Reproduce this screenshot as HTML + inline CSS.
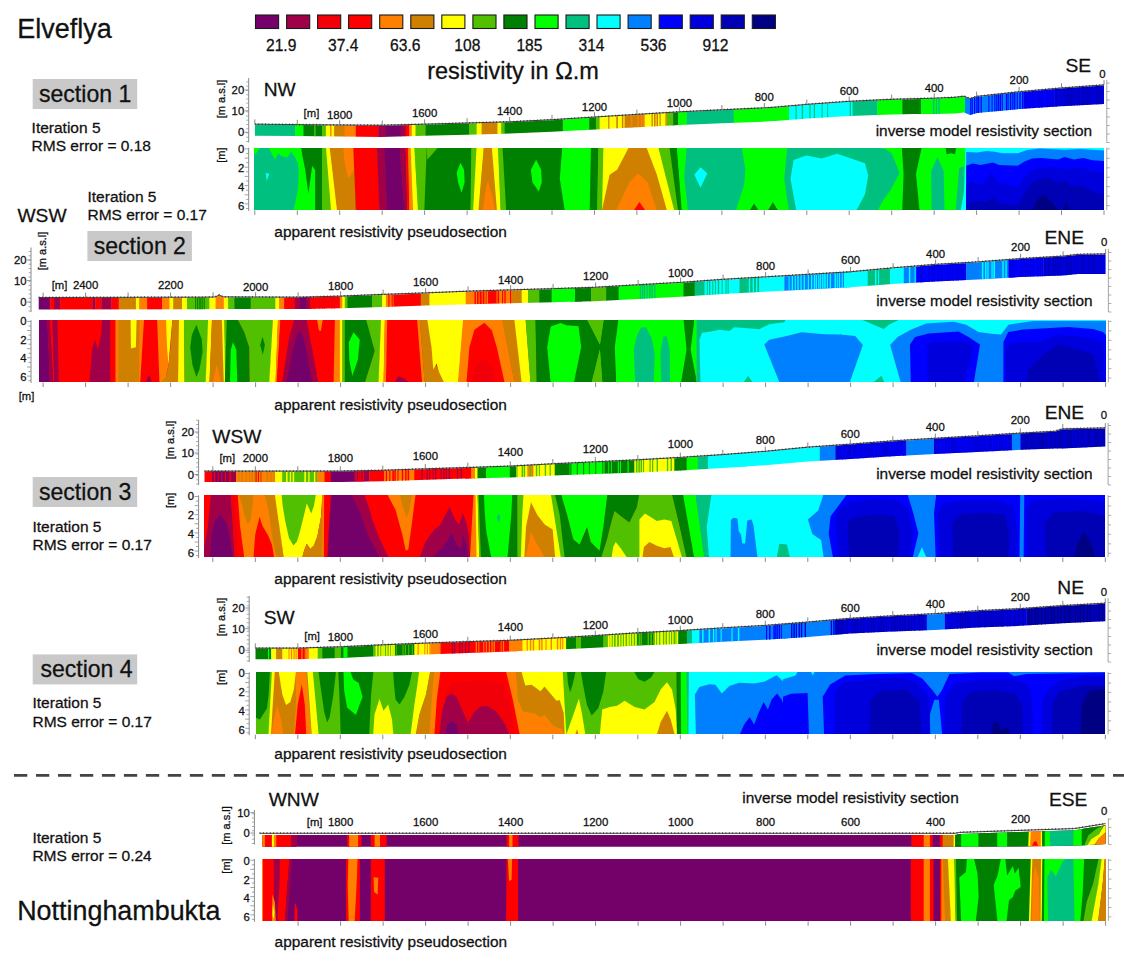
<!DOCTYPE html>
<html><head><meta charset="utf-8"><title>Resistivity sections</title>
<style>
html,body{margin:0;padding:0;background:#fff;}
body{width:1124px;height:961px;overflow:hidden;font-family:"Liberation Sans",sans-serif;}
svg{display:block;font-family:"Liberation Sans",sans-serif;fill:#111;}
text{stroke:#111;stroke-width:0.28px;}
</style></head><body>
<svg width="1124" height="961" viewBox="0 0 1124 961">
<rect x="0" y="0" width="1124" height="961" fill="#ffffff"/>
<rect x="255.5" y="15" width="23.1" height="13.5" fill="#74006a" stroke="#1a1a1a" stroke-width="1.1"/>
<rect x="286.6" y="15" width="23.1" height="13.5" fill="#a00048" stroke="#1a1a1a" stroke-width="1.1"/>
<rect x="317.6" y="15" width="23.1" height="13.5" fill="#f2000a" stroke="#1a1a1a" stroke-width="1.1"/>
<rect x="348.6" y="15" width="23.1" height="13.5" fill="#ff0000" stroke="#1a1a1a" stroke-width="1.1"/>
<rect x="379.7" y="15" width="23.1" height="13.5" fill="#ff8000" stroke="#1a1a1a" stroke-width="1.1"/>
<rect x="410.8" y="15" width="23.1" height="13.5" fill="#d08000" stroke="#1a1a1a" stroke-width="1.1"/>
<rect x="441.8" y="15" width="23.1" height="13.5" fill="#ffff00" stroke="#1a1a1a" stroke-width="1.1"/>
<rect x="472.9" y="15" width="23.1" height="13.5" fill="#50c000" stroke="#1a1a1a" stroke-width="1.1"/>
<rect x="503.9" y="15" width="23.1" height="13.5" fill="#008000" stroke="#1a1a1a" stroke-width="1.1"/>
<rect x="535.0" y="15" width="23.1" height="13.5" fill="#00ff00" stroke="#1a1a1a" stroke-width="1.1"/>
<rect x="566.0" y="15" width="23.1" height="13.5" fill="#00c080" stroke="#1a1a1a" stroke-width="1.1"/>
<rect x="597.0" y="15" width="23.1" height="13.5" fill="#00ffff" stroke="#1a1a1a" stroke-width="1.1"/>
<rect x="628.1" y="15" width="23.1" height="13.5" fill="#0080ff" stroke="#1a1a1a" stroke-width="1.1"/>
<rect x="659.2" y="15" width="23.1" height="13.5" fill="#0000ff" stroke="#1a1a1a" stroke-width="1.1"/>
<rect x="690.2" y="15" width="23.1" height="13.5" fill="#0000dc" stroke="#1a1a1a" stroke-width="1.1"/>
<rect x="721.2" y="15" width="23.1" height="13.5" fill="#0000b4" stroke="#1a1a1a" stroke-width="1.1"/>
<rect x="752.3" y="15" width="23.1" height="13.5" fill="#000082" stroke="#1a1a1a" stroke-width="1.1"/>
<text x="281.2" y="50.5" font-size="15.6" text-anchor="middle" >21.9</text>
<text x="343.2" y="50.5" font-size="15.6" text-anchor="middle" >37.4</text>
<text x="405.3" y="50.5" font-size="15.6" text-anchor="middle" >63.6</text>
<text x="467.3" y="50.5" font-size="15.6" text-anchor="middle" >108</text>
<text x="529.4" y="50.5" font-size="15.6" text-anchor="middle" >185</text>
<text x="591.5" y="50.5" font-size="15.6" text-anchor="middle" >314</text>
<text x="653.5" y="50.5" font-size="15.6" text-anchor="middle" >536</text>
<text x="715.5" y="50.5" font-size="15.6" text-anchor="middle" >912</text>
<text x="513.0" y="79.0" font-size="23.5" text-anchor="middle" >resistivity in Ω.m</text>
<text x="17.2" y="37.5" font-size="27" text-anchor="start" >Elveflya</text>
<text x="17.2" y="920.0" font-size="26.9" text-anchor="start" >Nottinghambukta</text>
<rect x="32.7" y="79.0" width="104.5" height="30" fill="#c9c9c9"/>
<text x="39.0" y="101.6" font-size="23.05" text-anchor="start" >section 1</text>
<rect x="87.4" y="231.0" width="104.5" height="30" fill="#c9c9c9"/>
<text x="93.7" y="253.6" font-size="23.05" text-anchor="start" >section 2</text>
<rect x="32.7" y="477.0" width="104.5" height="30" fill="#c9c9c9"/>
<text x="39.0" y="499.6" font-size="23.05" text-anchor="start" >section 3</text>
<rect x="32.7" y="654.4" width="104.5" height="30" fill="#c9c9c9"/>
<text x="40.4" y="677.0" font-size="23.05" text-anchor="start" >section 4</text>
<text x="31.6" y="132.8" font-size="15.5" text-anchor="start" >Iteration 5</text>
<text x="31.6" y="151.0" font-size="15.5" text-anchor="start" >RMS error = 0.18</text>
<text x="87.5" y="201.6" font-size="15.5" text-anchor="start" >Iteration 5</text>
<text x="87.5" y="219.8" font-size="15.5" text-anchor="start" >RMS error = 0.17</text>
<text x="32.5" y="531.7" font-size="15.5" text-anchor="start" >Iteration 5</text>
<text x="32.5" y="549.9" font-size="15.5" text-anchor="start" >RMS error = 0.17</text>
<text x="32.5" y="708.3" font-size="15.5" text-anchor="start" >Iteration 5</text>
<text x="32.5" y="726.5" font-size="15.5" text-anchor="start" >RMS error = 0.17</text>
<text x="32.4" y="842.6" font-size="15.5" text-anchor="start" >Iteration 5</text>
<text x="32.4" y="860.8" font-size="15.5" text-anchor="start" >RMS error = 0.24</text>
<text x="17.5" y="221.7" font-size="19.2" text-anchor="start" >WSW</text>
<line x1="14" y1="775.3" x2="1124" y2="775.3" stroke="#444" stroke-width="2.8" stroke-dasharray="13.3,8.68"/>
<clipPath id="c1"><polygon points="254.9,124.7 298.0,125.1 340.0,125.5 381.0,125.8 424.0,124.7 467.0,123.5 510.0,122.3 552.0,120.2 595.0,117.5 637.0,114.9 680.0,112.3 722.0,110.3 765.0,108.3 775.0,107.7 807.0,104.9 849.5,101.8 892.0,99.8 934.3,98.7 955.0,97.8 964.0,96.7 970.0,99.1 977.0,96.9 1019.4,92.2 1061.3,88.5 1104.0,85.4 1104.0,104.0 1061.3,106.3 1019.4,109.1 977.0,113.0 970.0,115.1 964.0,112.6 955.0,113.5 934.3,114.0 915.0,114.1 892.0,114.5 849.5,116.0 807.0,118.6 775.0,121.1 765.0,121.6 722.0,123.3 680.0,125.0 637.0,127.2 595.0,129.5 552.0,131.8 510.0,133.6 495.0,133.9 467.0,134.7 424.0,135.8 381.0,136.9 340.0,136.6 298.0,136.1 254.9,135.7"/></clipPath>
<g clip-path="url(#c1)">
<rect x="252.4" y="82.9" width="43.3" height="57.0" fill="#00c080"/>
<rect x="295.2" y="82.9" width="8.6" height="57.0" fill="#00ff00"/>
<rect x="303.4" y="82.9" width="19.1" height="57.0" fill="#008000"/>
<rect x="322.1" y="82.9" width="4.1" height="57.0" fill="#50c000"/>
<rect x="325.9" y="82.9" width="8.6" height="57.0" fill="#ffff00"/>
<rect x="334.1" y="82.9" width="10.9" height="57.0" fill="#d08000"/>
<rect x="344.5" y="82.9" width="11.6" height="57.0" fill="#ff8000"/>
<rect x="355.8" y="82.9" width="22.8" height="57.0" fill="#ff0000"/>
<rect x="378.2" y="82.9" width="7.9" height="57.0" fill="#a00048"/>
<rect x="385.7" y="82.9" width="15.3" height="57.0" fill="#74006a"/>
<rect x="400.6" y="82.9" width="5.4" height="57.0" fill="#a00048"/>
<rect x="405.6" y="82.9" width="4.1" height="57.0" fill="#ff0000"/>
<rect x="409.3" y="82.9" width="2.9" height="57.0" fill="#ff8000"/>
<rect x="411.8" y="82.9" width="4.1" height="57.0" fill="#ffff00"/>
<rect x="415.5" y="82.9" width="10.4" height="57.0" fill="#50c000"/>
<rect x="425.5" y="82.9" width="44.0" height="57.0" fill="#008000"/>
<rect x="469.1" y="82.9" width="7.9" height="57.0" fill="#50c000"/>
<rect x="476.6" y="82.9" width="5.4" height="57.0" fill="#ffff00"/>
<rect x="481.6" y="82.9" width="15.3" height="57.0" fill="#d08000"/>
<rect x="330.1" y="82.9" width="1.4" height="57.0" fill="#ff8000"/>
<rect x="314.2" y="82.9" width="1.4" height="57.0" fill="#50c000"/>
<rect x="495.0" y="82.9" width="2.9" height="57.0" fill="#d08000"/>
<rect x="497.5" y="82.9" width="4.1" height="57.0" fill="#ffff00"/>
<rect x="501.2" y="82.9" width="3.6" height="57.0" fill="#50c000"/>
<rect x="504.5" y="82.9" width="58.7" height="57.0" fill="#008000"/>
<rect x="562.8" y="82.9" width="26.8" height="57.0" fill="#00ff00"/>
<rect x="589.2" y="82.9" width="7.1" height="57.0" fill="#008000"/>
<rect x="595.9" y="82.9" width="4.1" height="57.0" fill="#50c000"/>
<rect x="599.6" y="82.9" width="25.3" height="57.0" fill="#ffff00"/>
<rect x="624.5" y="82.9" width="20.3" height="57.0" fill="#d08000"/>
<rect x="644.5" y="82.9" width="22.8" height="57.0" fill="#ffff00"/>
<rect x="666.9" y="82.9" width="6.6" height="57.0" fill="#50c000"/>
<rect x="673.1" y="82.9" width="5.4" height="57.0" fill="#008000"/>
<rect x="678.1" y="82.9" width="9.1" height="57.0" fill="#00ff00"/>
<rect x="686.8" y="82.9" width="47.2" height="57.0" fill="#00c080"/>
<rect x="733.7" y="82.9" width="43.3" height="57.0" fill="#00ff00"/>
<rect x="608.2" y="82.9" width="1.2" height="57.0" fill="#d08000"/>
<rect x="616.3" y="82.9" width="1.6" height="57.0" fill="#d08000"/>
<rect x="621.9" y="82.9" width="1.5" height="57.0" fill="#d08000"/>
<rect x="651.5" y="82.9" width="1.3" height="57.0" fill="#d08000"/>
<rect x="654.0" y="82.9" width="1.6" height="57.0" fill="#d08000"/>
<rect x="656.5" y="82.9" width="1.5" height="57.0" fill="#d08000"/>
<rect x="659.5" y="82.9" width="1.2" height="57.0" fill="#d08000"/>
<rect x="665.4" y="82.9" width="1.4" height="57.0" fill="#d08000"/>
<rect x="630.9" y="82.9" width="1.4" height="57.0" fill="#ff8000"/>
<rect x="637.4" y="82.9" width="1.4" height="57.0" fill="#ff8000"/>
<rect x="640.8" y="82.9" width="1.5" height="57.0" fill="#ff8000"/>
<rect x="643.1" y="82.9" width="1.4" height="57.0" fill="#ff8000"/>
<rect x="671.7" y="82.9" width="1.3" height="57.0" fill="#50c000"/>
<rect x="775.0" y="82.9" width="14.4" height="57.0" fill="#00ff00"/>
<rect x="789.0" y="82.9" width="64.1" height="57.0" fill="#00ffff"/>
<rect x="852.6" y="82.9" width="25.2" height="57.0" fill="#00c080"/>
<rect x="877.5" y="82.9" width="25.2" height="57.0" fill="#00ff00"/>
<rect x="902.3" y="82.9" width="19.0" height="57.0" fill="#008000"/>
<rect x="920.9" y="82.9" width="44.5" height="57.0" fill="#00ff00"/>
<rect x="965.0" y="82.9" width="58.8" height="57.0" fill="#0080ff"/>
<rect x="1023.4" y="82.9" width="31.5" height="57.0" fill="#0000ff"/>
<rect x="1054.5" y="82.9" width="53.2" height="57.0" fill="#0000dc"/>
<rect x="795.5" y="82.9" width="1.2" height="57.0" fill="#00c080"/>
<rect x="801.8" y="82.9" width="1.3" height="57.0" fill="#00c080"/>
<rect x="809.4" y="82.9" width="1.2" height="57.0" fill="#00c080"/>
<rect x="813.8" y="82.9" width="1.2" height="57.0" fill="#00c080"/>
<rect x="821.6" y="82.9" width="1.0" height="57.0" fill="#00c080"/>
<rect x="827.2" y="82.9" width="0.9" height="57.0" fill="#00c080"/>
<rect x="849.7" y="82.9" width="1.3" height="57.0" fill="#00c080"/>
<rect x="932.9" y="82.9" width="1.4" height="57.0" fill="#00c080"/>
<rect x="935.9" y="82.9" width="1.1" height="57.0" fill="#00c080"/>
<rect x="938.3" y="82.9" width="1.4" height="57.0" fill="#00c080"/>
<rect x="970.2" y="82.9" width="1.1" height="57.0" fill="#0000ff"/>
<rect x="971.7" y="82.9" width="1.2" height="57.0" fill="#0000ff"/>
<rect x="974.0" y="82.9" width="1.3" height="57.0" fill="#0000ff"/>
<rect x="976.3" y="82.9" width="1.3" height="57.0" fill="#0000ff"/>
<rect x="977.9" y="82.9" width="1.4" height="57.0" fill="#0000ff"/>
<rect x="980.6" y="82.9" width="1.2" height="57.0" fill="#0000ff"/>
<rect x="988.4" y="82.9" width="1.0" height="57.0" fill="#0000ff"/>
<rect x="991.6" y="82.9" width="1.0" height="57.0" fill="#0000ff"/>
<rect x="994.3" y="82.9" width="1.1" height="57.0" fill="#0000ff"/>
<rect x="996.2" y="82.9" width="1.2" height="57.0" fill="#0000ff"/>
<rect x="997.9" y="82.9" width="1.5" height="57.0" fill="#0000ff"/>
<rect x="1000.0" y="82.9" width="1.0" height="57.0" fill="#0000ff"/>
<rect x="1001.7" y="82.9" width="1.1" height="57.0" fill="#0000ff"/>
<rect x="1005.9" y="82.9" width="1.3" height="57.0" fill="#0000ff"/>
<rect x="1007.6" y="82.9" width="1.0" height="57.0" fill="#0000ff"/>
<rect x="1009.9" y="82.9" width="1.4" height="57.0" fill="#0000ff"/>
<rect x="1012.3" y="82.9" width="1.2" height="57.0" fill="#0000ff"/>
<rect x="1014.1" y="82.9" width="1.3" height="57.0" fill="#0000ff"/>
<rect x="1016.7" y="82.9" width="1.1" height="57.0" fill="#0000ff"/>
<rect x="1019.3" y="82.9" width="1.4" height="57.0" fill="#0000ff"/>
<rect x="1021.9" y="82.9" width="1.4" height="57.0" fill="#0000ff"/>
<rect x="1024.6" y="82.9" width="1.0" height="57.0" fill="#0000dc"/>
<rect x="1026.4" y="82.9" width="1.1" height="57.0" fill="#0000dc"/>
<rect x="1029.0" y="82.9" width="1.2" height="57.0" fill="#0000dc"/>
<rect x="1032.1" y="82.9" width="1.5" height="57.0" fill="#0000dc"/>
<rect x="1038.3" y="82.9" width="1.5" height="57.0" fill="#0000dc"/>
<rect x="1041.1" y="82.9" width="1.3" height="57.0" fill="#0000dc"/>
<rect x="1046.6" y="82.9" width="1.4" height="57.0" fill="#0000dc"/>
<rect x="1049.4" y="82.9" width="1.1" height="57.0" fill="#0000dc"/>
<rect x="1052.2" y="82.9" width="1.4" height="57.0" fill="#0000dc"/>
<rect x="1055.5" y="82.9" width="1.4" height="57.0" fill="#0000b4"/>
<rect x="1063.7" y="82.9" width="1.0" height="57.0" fill="#0000b4"/>
<rect x="1066.8" y="82.9" width="1.2" height="57.0" fill="#0000b4"/>
<rect x="1069.2" y="82.9" width="1.0" height="57.0" fill="#0000b4"/>
<rect x="1071.0" y="82.9" width="1.2" height="57.0" fill="#0000b4"/>
<rect x="1073.6" y="82.9" width="1.1" height="57.0" fill="#0000b4"/>
<rect x="1076.8" y="82.9" width="1.0" height="57.0" fill="#0000b4"/>
<rect x="1079.0" y="82.9" width="1.0" height="57.0" fill="#0000b4"/>
<rect x="1081.8" y="82.9" width="1.1" height="57.0" fill="#0000b4"/>
<rect x="1083.8" y="82.9" width="1.1" height="57.0" fill="#0000b4"/>
<rect x="1086.3" y="82.9" width="1.4" height="57.0" fill="#0000b4"/>
<rect x="1088.8" y="82.9" width="1.2" height="57.0" fill="#0000b4"/>
<rect x="1091.5" y="82.9" width="0.9" height="57.0" fill="#0000b4"/>
<rect x="1095.8" y="82.9" width="1.0" height="57.0" fill="#0000b4"/>
<rect x="1098.3" y="82.9" width="1.2" height="57.0" fill="#0000b4"/>
<rect x="1100.7" y="82.9" width="1.2" height="57.0" fill="#0000b4"/>
</g>
<polyline fill="none" stroke="#2a2a2a" stroke-width="0.9" points="254.9,124.2 298.0,124.6 340.0,125.0 381.0,125.3 424.0,124.2 467.0,123.0 510.0,121.8 552.0,119.7 595.0,117.0 637.0,114.4 680.0,111.8 722.0,109.8 765.0,107.8 775.0,107.2 807.0,104.4 849.5,101.3 892.0,99.3 934.3,98.2 955.0,97.3 964.0,96.2 970.0,98.6 977.0,96.4 1019.4,91.7 1061.3,88.0 1104.0,84.9"/>
<polyline fill="none" stroke="#333" stroke-width="1.5" stroke-dasharray="0.9,2.5" points="254.9,124.0 298.0,124.4 340.0,124.8 381.0,125.1 424.0,124.0 467.0,122.8 510.0,121.6 552.0,119.5 595.0,116.8 637.0,114.2 680.0,111.6 722.0,109.6 765.0,107.6 775.0,107.0 807.0,104.2 849.5,101.1 892.0,99.1 934.3,98.0 955.0,97.1 964.0,96.0 970.0,98.4 977.0,96.2 1019.4,91.5 1061.3,87.8 1104.0,84.7"/>
<clipPath id="c2"><rect x="254" y="148" width="850" height="62"/></clipPath>
<g clip-path="url(#c2)">
<rect x="253.5" y="146.7" width="851.5" height="64.2" fill="#00ff00"/>
<polygon fill="#00c080" points="253.2,154.4 256.4,153.0 260.7,146.9 268.1,146.9 275.1,159.8 278.3,152.8 281.0,156.0 287.4,157.6 291.1,151.2 294.8,157.1 298.0,163.5 298.7,172.0 298.0,188.0 295.9,199.8 293.2,211.5 253.2,211.5" />
<polygon fill="#00ffff" points="265.6,172.7 269.3,173.7 266.8,180.9" />
<polygon fill="#008000" points="300.9,146.1 322.1,146.1 322.1,212.1 315.1,212.1 315.1,169.7 312.2,166.0 308.4,193.4 305.2,169.7 302.2,154.8" />
<polygon fill="#50c000" points="322.1,146.7 329.1,146.7 331.6,210.9 322.1,210.9" />
<polygon fill="#ffff00" points="325.9,146.7 330.1,146.7 337.6,210.9 331.1,210.9" />
<polygon fill="#d08000" points="329.6,146.7 353.5,146.7 356.0,210.9 337.1,210.9" />
<polygon fill="#ff8000" points="343.3,146.1 353.5,146.1 354.0,169.7 348.3,178.5 344.5,162.3" />
<polygon fill="#ff0000" points="353.3,146.7 377.4,146.7 379.9,210.9 355.8,210.9" />
<polygon fill="#a00048" points="376.9,146.7 384.9,146.7 387.4,210.9 379.4,210.9" />
<polygon fill="#74006a" points="384.4,146.7 399.9,146.7 404.8,210.9 386.9,210.9" />
<polygon fill="#a00048" points="399.4,146.7 405.8,146.7 407.6,210.9 404.3,210.9" />
<polygon fill="#ff0000" points="405.6,146.7 408.3,146.7 409.6,210.9 407.3,210.9" />
<polygon fill="#ff8000" points="408.1,146.7 410.8,146.7 413.3,210.9 409.3,210.9" />
<polygon fill="#ffff00" points="410.6,146.7 414.6,146.7 418.3,210.9 413.1,210.9" />
<polygon fill="#50c000" points="414.3,146.7 427.3,146.7 424.8,210.9 418.0,210.9" />
<polygon fill="#008000" points="426.8,146.7 471.6,146.7 470.9,210.9 424.3,210.9" />
<polygon fill="#50c000" points="426.8,146.1 439.2,146.1 431.7,154.8 427.3,159.8" />
<polygon fill="#00ff00" points="460.4,162.8 464.1,169.7 464.6,182.2 461.6,192.7 458.1,182.2 456.7,172.7" />
<polygon fill="#50c000" points="471.4,146.7 477.1,146.7 473.6,210.9 470.4,210.9" />
<polygon fill="#ffff00" points="476.6,146.7 484.1,146.7 478.8,210.9 473.1,210.9" />
<polygon fill="#d08000" points="483.8,146.1 492.0,146.1 497.5,212.1 478.3,212.1" />
<polygon fill="#ff8000" points="487.8,180.9 492.0,194.7 495.3,212.1 482.8,212.1 485.3,192.2" />
<polygon fill="#ffff00" points="491.8,146.7 498.2,146.7 501.0,210.9 497.0,210.9" />
<polygon fill="#50c000" points="498.0,146.7 502.7,146.7 507.2,210.9 500.5,210.9" />
<polygon fill="#008000" points="502.5,146.7 562.8,146.7 565.3,210.9 506.2,210.9" />
<polygon fill="#00ff00" points="536.1,159.8 541.1,169.7 541.8,182.2 538.8,191.4 532.4,182.2 530.9,169.7" />
<polygon fill="#00ff00" points="562.3,146.7 591.2,146.7 593.7,178.8 589.9,210.9 564.8,210.9 559.8,178.8" />
<polygon fill="#008000" points="590.9,146.7 598.6,146.7 597.4,210.9 589.7,210.9" />
<polygon fill="#50c000" points="598.4,146.7 603.6,146.7 602.4,210.9 597.1,210.9" />
<polygon fill="#ffff00" points="603.4,146.7 658.4,146.7 674.9,210.9 602.1,210.9" />
<polygon fill="#d08000" points="629.5,146.1 646.0,146.1 656.9,174.7 667.4,212.1 601.6,212.1 609.6,174.7 617.1,169.7" />
<polygon fill="#ff8000" points="638.2,173.5 647.5,182.2 657.4,212.1 615.3,212.1 629.5,182.2" />
<polygon fill="#ff0000" points="639.5,202.1 646.5,212.1 632.5,212.1" />
<polygon fill="#50c000" points="658.2,146.7 669.6,146.7 678.4,210.9 674.4,210.9" />
<polygon fill="#008000" points="669.4,146.7 677.1,146.7 682.1,210.9 678.1,210.9" />
<polygon fill="#00ff00" points="676.9,146.7 687.1,146.7 688.3,210.9 681.8,210.9" />
<polygon fill="#00c080" points="686.8,146.1 741.6,146.1 745.4,169.7 744.1,184.7 735.4,212.1 688.1,212.1 684.3,177.2" />
<polygon fill="#00ffff" points="700.5,167.2 707.3,173.5 700.5,187.7 694.3,174.7" />
<polygon fill="#008000" points="748.6,212.1 754.1,203.4 759.6,212.1" />
<polygon fill="#008000" points="767.0,212.1 772.8,202.1 779.0,212.1" />
<polygon fill="#00c080" points="787.4,144.5 880.6,144.5 880.9,150.7 877.5,212.8 789.0,212.8 784.3,178.7" />
<polygon fill="#00c080" points="874.7,147.1 885.3,148.9 891.6,153.3 899.6,172.9 890.7,189.8 883.6,199.6 877.3,211.2 874.7,211.2" />
<polygon fill="#00ffff" points="793.6,160.0 806.1,155.4 821.6,158.5 837.1,153.8 865.0,163.2 868.2,175.6 865.0,194.2 855.1,212.8 796.7,212.8 790.5,178.7" />
<polygon fill="#008000" points="901.8,147.1 921.8,147.1 916.0,173.8 919.6,211.2 902.2,211.2 903.6,173.8" />
<polygon fill="#008000" points="945.4,147.1 956.1,147.1 955.2,154.2 951.2,153.3 946.7,154.2" />
<polygon fill="#00c080" points="937.4,156.9 943.6,171.1 944.5,211.2 931.6,211.2 931.2,171.1" />
<polygon fill="#00c080" points="959.2,167.6 964.3,166.7 963.8,193.4 960.5,211.2 955.6,211.2 957.8,184.5" />
<polygon fill="#00ffff" points="965.2,147.1 967.6,147.1 967.6,211.2 960.5,211.2 963.8,193.4 965.0,166.7" />
<polygon fill="#00ffff" points="966.2,146.2 1105.0,146.2 1105.0,211.6 966.2,211.6" />
<polygon fill="#0080ff" points="966.2,152.1 977.4,152.5 986.7,150.9 994.5,151.7 1002.3,153.2 1017.8,153.2 1027.2,150.1 1039.6,148.6 1064.6,149.7 1080.1,149.0 1105.0,150.6 1105.0,211.6 966.2,211.6" />
<polygon fill="#0000ff" points="966.2,165.7 972.7,163.4 980.5,164.9 992.9,162.6 999.2,164.9 1017.8,165.7 1024.1,161.8 1031.9,158.4 1041.2,157.9 1058.3,159.5 1064.6,157.1 1073.9,159.5 1083.2,157.9 1092.6,160.2 1105.0,161.0 1105.0,211.6 966.2,211.6" />
<polygon fill="#0000dc" points="966.2,185.2 971.9,181.3 980.5,185.2 991.4,173.5 997.6,182.0 1008.5,184.4 1017.8,186.7 1024.1,177.4 1030.3,171.1 1041.2,167.7 1055.2,167.2 1064.6,169.6 1073.9,167.2 1086.3,168.8 1095.7,171.1 1105.0,172.7 1105.0,211.6 966.2,211.6" />
<polygon fill="#0000b4" points="966.2,205.4 974.3,200.7 986.7,202.3 992.9,197.6 999.2,203.8 1017.8,205.4 1027.2,189.8 1033.4,182.0 1041.2,178.6 1049.0,178.1 1058.3,183.6 1064.6,180.5 1072.3,186.7 1080.1,185.2 1089.5,189.8 1095.7,192.9 1105.0,194.5 1105.0,211.6 966.2,211.6" />
<polygon fill="#000082" points="1031.9,211.6 1036.5,200.7 1044.3,194.5 1052.1,202.3 1059.1,211.6" />
<polygon fill="#000082" points="1062.2,211.6 1066.1,202.3 1070.0,211.6" />
</g>
<line x1="248.7" y1="147.7" x2="248.7" y2="210.9" stroke="#8a8a8a" stroke-width="1"/>
<line x1="244.7" y1="148.9" x2="248.7" y2="148.9" stroke="#8a8a8a" stroke-width="0.8"/>
<line x1="246.2" y1="153.5" x2="248.7" y2="153.5" stroke="#8a8a8a" stroke-width="0.8"/>
<line x1="244.7" y1="158.1" x2="248.7" y2="158.1" stroke="#8a8a8a" stroke-width="0.8"/>
<line x1="246.2" y1="162.7" x2="248.7" y2="162.7" stroke="#8a8a8a" stroke-width="0.8"/>
<line x1="244.7" y1="167.2" x2="248.7" y2="167.2" stroke="#8a8a8a" stroke-width="0.8"/>
<line x1="246.2" y1="171.8" x2="248.7" y2="171.8" stroke="#8a8a8a" stroke-width="0.8"/>
<line x1="244.7" y1="176.4" x2="248.7" y2="176.4" stroke="#8a8a8a" stroke-width="0.8"/>
<line x1="246.2" y1="181.0" x2="248.7" y2="181.0" stroke="#8a8a8a" stroke-width="0.8"/>
<line x1="244.7" y1="185.6" x2="248.7" y2="185.6" stroke="#8a8a8a" stroke-width="0.8"/>
<line x1="246.2" y1="190.2" x2="248.7" y2="190.2" stroke="#8a8a8a" stroke-width="0.8"/>
<line x1="244.7" y1="194.8" x2="248.7" y2="194.8" stroke="#8a8a8a" stroke-width="0.8"/>
<line x1="246.2" y1="199.4" x2="248.7" y2="199.4" stroke="#8a8a8a" stroke-width="0.8"/>
<line x1="244.7" y1="203.9" x2="248.7" y2="203.9" stroke="#8a8a8a" stroke-width="0.8"/>
<line x1="246.2" y1="208.5" x2="248.7" y2="208.5" stroke="#8a8a8a" stroke-width="0.8"/>
<text x="244.2" y="153.3" font-size="11.3" text-anchor="end" >0</text>
<text x="244.2" y="172.2" font-size="11.3" text-anchor="end" >2</text>
<text x="244.2" y="191.1" font-size="11.3" text-anchor="end" >4</text>
<text x="244.2" y="210.0" font-size="11.3" text-anchor="end" >6</text>
<line x1="248.7" y1="78.0" x2="248.7" y2="142.5" stroke="#8a8a8a" stroke-width="1"/>
<line x1="246.2" y1="141.5" x2="248.7" y2="141.5" stroke="#8a8a8a" stroke-width="0.7"/>
<line x1="246.2" y1="137.2" x2="248.7" y2="137.2" stroke="#8a8a8a" stroke-width="0.7"/>
<line x1="246.2" y1="133.0" x2="248.7" y2="133.0" stroke="#8a8a8a" stroke-width="0.7"/>
<line x1="246.2" y1="128.8" x2="248.7" y2="128.8" stroke="#8a8a8a" stroke-width="0.7"/>
<line x1="246.2" y1="124.5" x2="248.7" y2="124.5" stroke="#8a8a8a" stroke-width="0.7"/>
<line x1="246.2" y1="120.2" x2="248.7" y2="120.2" stroke="#8a8a8a" stroke-width="0.7"/>
<line x1="246.2" y1="116.0" x2="248.7" y2="116.0" stroke="#8a8a8a" stroke-width="0.7"/>
<line x1="246.2" y1="111.8" x2="248.7" y2="111.8" stroke="#8a8a8a" stroke-width="0.7"/>
<line x1="246.2" y1="107.5" x2="248.7" y2="107.5" stroke="#8a8a8a" stroke-width="0.7"/>
<line x1="246.2" y1="103.2" x2="248.7" y2="103.2" stroke="#8a8a8a" stroke-width="0.7"/>
<line x1="246.2" y1="99.0" x2="248.7" y2="99.0" stroke="#8a8a8a" stroke-width="0.7"/>
<line x1="246.2" y1="94.8" x2="248.7" y2="94.8" stroke="#8a8a8a" stroke-width="0.7"/>
<line x1="246.2" y1="90.5" x2="248.7" y2="90.5" stroke="#8a8a8a" stroke-width="0.7"/>
<line x1="246.2" y1="86.2" x2="248.7" y2="86.2" stroke="#8a8a8a" stroke-width="0.7"/>
<line x1="246.2" y1="82.0" x2="248.7" y2="82.0" stroke="#8a8a8a" stroke-width="0.7"/>
<text x="244.2" y="94.0" font-size="11.3" text-anchor="end" >20</text>
<line x1="244.7" y1="90.0" x2="248.7" y2="90.0" stroke="#8a8a8a" stroke-width="0.9"/>
<text x="244.2" y="114.8" font-size="11.3" text-anchor="end" >10</text>
<line x1="244.7" y1="110.8" x2="248.7" y2="110.8" stroke="#8a8a8a" stroke-width="0.9"/>
<text x="244.2" y="136.3" font-size="11.3" text-anchor="end" >0</text>
<line x1="244.7" y1="132.3" x2="248.7" y2="132.3" stroke="#8a8a8a" stroke-width="0.9"/>
<text transform="translate(224.5,99.0) rotate(-90)" font-size="11" text-anchor="middle">[m a.s.l]</text>
<text transform="translate(224.5,155.2) rotate(-90)" font-size="11" text-anchor="middle">[m]</text>
<line x1="1106.8" y1="147.7" x2="1106.8" y2="209.9" stroke="#9a9a9a" stroke-width="0.9"/>
<line x1="1106.8" y1="79.9" x2="1106.8" y2="142.5" stroke="#9a9a9a" stroke-width="0.9"/>
<line x1="1106.8" y1="148.9" x2="1109.8" y2="148.9" stroke="#9a9a9a" stroke-width="0.8"/>
<line x1="1106.8" y1="158.3" x2="1109.8" y2="158.3" stroke="#9a9a9a" stroke-width="0.8"/>
<line x1="1106.8" y1="167.8" x2="1109.8" y2="167.8" stroke="#9a9a9a" stroke-width="0.8"/>
<line x1="1106.8" y1="177.2" x2="1109.8" y2="177.2" stroke="#9a9a9a" stroke-width="0.8"/>
<line x1="1106.8" y1="186.7" x2="1109.8" y2="186.7" stroke="#9a9a9a" stroke-width="0.8"/>
<line x1="1106.8" y1="196.1" x2="1109.8" y2="196.1" stroke="#9a9a9a" stroke-width="0.8"/>
<line x1="1106.8" y1="205.6" x2="1109.8" y2="205.6" stroke="#9a9a9a" stroke-width="0.8"/>
<line x1="1106.8" y1="142.5" x2="1109.8" y2="142.5" stroke="#9a9a9a" stroke-width="0.8"/>
<line x1="1106.8" y1="134.0" x2="1109.8" y2="134.0" stroke="#9a9a9a" stroke-width="0.8"/>
<line x1="1106.8" y1="125.5" x2="1109.8" y2="125.5" stroke="#9a9a9a" stroke-width="0.8"/>
<line x1="1106.8" y1="117.0" x2="1109.8" y2="117.0" stroke="#9a9a9a" stroke-width="0.8"/>
<line x1="1106.8" y1="108.5" x2="1109.8" y2="108.5" stroke="#9a9a9a" stroke-width="0.8"/>
<line x1="1106.8" y1="100.0" x2="1109.8" y2="100.0" stroke="#9a9a9a" stroke-width="0.8"/>
<line x1="1106.8" y1="91.5" x2="1109.8" y2="91.5" stroke="#9a9a9a" stroke-width="0.8"/>
<line x1="1106.8" y1="83.0" x2="1109.8" y2="83.0" stroke="#9a9a9a" stroke-width="0.8"/>
<line x1="1104.0" y1="210.4" x2="1104.0" y2="214.9" stroke="#8a8a8a" stroke-width="1"/>
<line x1="1104.0" y1="80.1" x2="1104.0" y2="84.9" stroke="#7a7a7a" stroke-width="0.9"/>
<text x="1102.5" y="77.5" font-size="11.4" text-anchor="middle" >0</text>
<line x1="1061.5" y1="210.4" x2="1061.5" y2="214.9" stroke="#8a8a8a" stroke-width="1"/>
<line x1="1061.5" y1="83.2" x2="1061.5" y2="88.0" stroke="#7a7a7a" stroke-width="0.9"/>
<line x1="1019.1" y1="210.4" x2="1019.1" y2="214.9" stroke="#8a8a8a" stroke-width="1"/>
<line x1="1019.1" y1="86.9" x2="1019.1" y2="91.7" stroke="#7a7a7a" stroke-width="0.9"/>
<text x="1019.1" y="84.4" font-size="11.4" text-anchor="middle" >200</text>
<line x1="976.6" y1="210.4" x2="976.6" y2="214.9" stroke="#8a8a8a" stroke-width="1"/>
<line x1="976.6" y1="91.7" x2="976.6" y2="96.5" stroke="#7a7a7a" stroke-width="0.9"/>
<line x1="934.2" y1="210.4" x2="934.2" y2="214.9" stroke="#8a8a8a" stroke-width="1"/>
<line x1="934.2" y1="93.4" x2="934.2" y2="98.2" stroke="#7a7a7a" stroke-width="0.9"/>
<text x="934.2" y="92.1" font-size="11.4" text-anchor="middle" >400</text>
<line x1="891.7" y1="210.4" x2="891.7" y2="214.9" stroke="#8a8a8a" stroke-width="1"/>
<line x1="891.7" y1="94.5" x2="891.7" y2="99.3" stroke="#7a7a7a" stroke-width="0.9"/>
<line x1="849.2" y1="210.4" x2="849.2" y2="214.9" stroke="#8a8a8a" stroke-width="1"/>
<line x1="849.2" y1="96.5" x2="849.2" y2="101.3" stroke="#7a7a7a" stroke-width="0.9"/>
<text x="849.2" y="94.5" font-size="11.4" text-anchor="middle" >600</text>
<line x1="806.8" y1="210.4" x2="806.8" y2="214.9" stroke="#8a8a8a" stroke-width="1"/>
<line x1="806.8" y1="99.6" x2="806.8" y2="104.4" stroke="#7a7a7a" stroke-width="0.9"/>
<line x1="764.3" y1="210.4" x2="764.3" y2="214.9" stroke="#8a8a8a" stroke-width="1"/>
<line x1="764.3" y1="103.0" x2="764.3" y2="107.8" stroke="#7a7a7a" stroke-width="0.9"/>
<text x="764.3" y="100.5" font-size="11.4" text-anchor="middle" >800</text>
<line x1="721.9" y1="210.4" x2="721.9" y2="214.9" stroke="#8a8a8a" stroke-width="1"/>
<line x1="721.9" y1="105.0" x2="721.9" y2="109.8" stroke="#7a7a7a" stroke-width="0.9"/>
<line x1="679.4" y1="210.4" x2="679.4" y2="214.9" stroke="#8a8a8a" stroke-width="1"/>
<line x1="679.4" y1="107.0" x2="679.4" y2="111.8" stroke="#7a7a7a" stroke-width="0.9"/>
<text x="679.4" y="106.7" font-size="11.4" text-anchor="middle" >1000</text>
<line x1="636.9" y1="210.4" x2="636.9" y2="214.9" stroke="#8a8a8a" stroke-width="1"/>
<line x1="636.9" y1="109.6" x2="636.9" y2="114.4" stroke="#7a7a7a" stroke-width="0.9"/>
<line x1="594.5" y1="210.4" x2="594.5" y2="214.9" stroke="#8a8a8a" stroke-width="1"/>
<line x1="594.5" y1="112.2" x2="594.5" y2="117.0" stroke="#7a7a7a" stroke-width="0.9"/>
<text x="594.5" y="110.5" font-size="11.4" text-anchor="middle" >1200</text>
<line x1="552.0" y1="210.4" x2="552.0" y2="214.9" stroke="#8a8a8a" stroke-width="1"/>
<line x1="552.0" y1="114.9" x2="552.0" y2="119.7" stroke="#7a7a7a" stroke-width="0.9"/>
<line x1="509.6" y1="210.4" x2="509.6" y2="214.9" stroke="#8a8a8a" stroke-width="1"/>
<line x1="509.6" y1="117.0" x2="509.6" y2="121.8" stroke="#7a7a7a" stroke-width="0.9"/>
<text x="509.6" y="114.5" font-size="11.4" text-anchor="middle" >1400</text>
<line x1="467.1" y1="210.4" x2="467.1" y2="214.9" stroke="#8a8a8a" stroke-width="1"/>
<line x1="467.1" y1="118.2" x2="467.1" y2="123.0" stroke="#7a7a7a" stroke-width="0.9"/>
<line x1="424.6" y1="210.4" x2="424.6" y2="214.9" stroke="#8a8a8a" stroke-width="1"/>
<line x1="424.6" y1="119.4" x2="424.6" y2="124.2" stroke="#7a7a7a" stroke-width="0.9"/>
<text x="424.6" y="117.4" font-size="11.4" text-anchor="middle" >1600</text>
<line x1="382.2" y1="210.4" x2="382.2" y2="214.9" stroke="#8a8a8a" stroke-width="1"/>
<line x1="382.2" y1="120.5" x2="382.2" y2="125.3" stroke="#7a7a7a" stroke-width="0.9"/>
<line x1="339.7" y1="210.4" x2="339.7" y2="214.9" stroke="#8a8a8a" stroke-width="1"/>
<line x1="339.7" y1="120.2" x2="339.7" y2="125.0" stroke="#7a7a7a" stroke-width="0.9"/>
<text x="339.7" y="118.9" font-size="11.4" text-anchor="middle" >1800</text>
<line x1="297.3" y1="210.4" x2="297.3" y2="214.9" stroke="#8a8a8a" stroke-width="1"/>
<line x1="297.3" y1="119.8" x2="297.3" y2="124.6" stroke="#7a7a7a" stroke-width="0.9"/>
<line x1="254.8" y1="210.4" x2="254.8" y2="214.9" stroke="#8a8a8a" stroke-width="1"/>
<line x1="254.8" y1="119.4" x2="254.8" y2="124.2" stroke="#7a7a7a" stroke-width="0.9"/>
<text x="303.6" y="117.4" font-size="11.3" text-anchor="start" >[m]</text>
<text x="263.7" y="95.7" font-size="19.2" text-anchor="start" >NW</text>
<text x="1065.5" y="71.5" font-size="19.2" text-anchor="start" >SE</text>
<text x="875.7" y="136.2" font-size="15.4" text-anchor="start" >inverse model resistivity section</text>
<text x="274.3" y="236.8" font-size="15.45" text-anchor="start" >apparent resistivity pseudosection</text>
<clipPath id="c3"><polygon points="38.7,298.0 200.0,297.7 215.0,297.5 219.3,295.5 223.0,297.4 300.0,297.7 341.0,296.6 383.5,294.9 425.8,293.4 468.2,291.7 510.5,290.4 552.9,289.2 594.9,287.8 637.8,285.3 680.4,282.9 722.5,279.9 765.0,277.4 807.4,274.9 850.0,272.3 892.6,268.4 935.4,264.9 977.8,262.4 1020.4,259.1 1063.2,256.6 1078.0,254.9 1105.6,254.4 1105.6,274.0 1078.0,274.0 1063.2,275.4 1020.4,277.1 977.8,279.6 935.4,281.4 892.6,284.1 850.0,287.2 807.4,289.5 765.0,291.8 722.5,294.0 680.4,296.8 637.8,298.9 594.9,301.2 570.0,301.8 552.9,302.3 510.5,303.2 468.2,304.2 425.8,305.6 383.5,306.9 341.0,308.3 300.0,309.1 223.0,308.9 219.3,309.0 215.0,309.0 200.0,309.2 38.7,309.4"/></clipPath>
<g clip-path="url(#c3)">
<rect x="37.5" y="251.9" width="11.6" height="60.5" fill="#74006a"/>
<rect x="48.7" y="251.9" width="2.1" height="60.5" fill="#a00048"/>
<rect x="50.4" y="251.9" width="3.9" height="60.5" fill="#ff0000"/>
<rect x="53.9" y="251.9" width="6.9" height="60.5" fill="#a00048"/>
<rect x="60.4" y="251.9" width="32.3" height="60.5" fill="#ff0000"/>
<rect x="92.3" y="251.9" width="3.4" height="60.5" fill="#a00048"/>
<rect x="95.3" y="251.9" width="6.4" height="60.5" fill="#ff0000"/>
<rect x="101.3" y="251.9" width="10.4" height="60.5" fill="#a00048"/>
<rect x="111.2" y="251.9" width="7.9" height="60.5" fill="#ff0000"/>
<rect x="118.7" y="251.9" width="17.6" height="60.5" fill="#d08000"/>
<rect x="135.9" y="251.9" width="3.6" height="60.5" fill="#ffff00"/>
<rect x="139.1" y="251.9" width="8.4" height="60.5" fill="#ff8000"/>
<rect x="147.1" y="251.9" width="15.3" height="60.5" fill="#ff0000"/>
<rect x="162.0" y="251.9" width="7.9" height="60.5" fill="#ff8000"/>
<rect x="169.5" y="251.9" width="4.1" height="60.5" fill="#ffff00"/>
<rect x="173.2" y="251.9" width="9.1" height="60.5" fill="#d08000"/>
<rect x="182.0" y="251.9" width="5.4" height="60.5" fill="#ffff00"/>
<rect x="187.0" y="251.9" width="22.8" height="60.5" fill="#50c000"/>
<rect x="209.4" y="251.9" width="6.6" height="60.5" fill="#ffff00"/>
<rect x="215.6" y="251.9" width="8.6" height="60.5" fill="#ff8000"/>
<rect x="223.8" y="251.9" width="4.6" height="60.5" fill="#ffff00"/>
<rect x="228.1" y="251.9" width="6.6" height="60.5" fill="#50c000"/>
<rect x="234.3" y="251.9" width="16.8" height="60.5" fill="#008000"/>
<rect x="250.7" y="251.9" width="25.1" height="60.5" fill="#50c000"/>
<rect x="275.4" y="251.9" width="4.1" height="60.5" fill="#ffff00"/>
<rect x="279.1" y="251.9" width="5.4" height="60.5" fill="#ff8000"/>
<rect x="284.1" y="251.9" width="10.4" height="60.5" fill="#ff0000"/>
<rect x="294.1" y="251.9" width="17.8" height="60.5" fill="#a00048"/>
<rect x="195.2" y="251.9" width="1.0" height="60.5" fill="#008000"/>
<rect x="197.1" y="251.9" width="1.2" height="60.5" fill="#008000"/>
<rect x="199.3" y="251.9" width="1.4" height="60.5" fill="#008000"/>
<rect x="201.5" y="251.9" width="1.2" height="60.5" fill="#008000"/>
<rect x="203.7" y="251.9" width="1.1" height="60.5" fill="#008000"/>
<rect x="287.8" y="251.9" width="1.3" height="60.5" fill="#f2000a"/>
<rect x="290.9" y="251.9" width="1.1" height="60.5" fill="#f2000a"/>
<rect x="293.5" y="251.9" width="1.4" height="60.5" fill="#f2000a"/>
<rect x="302.7" y="251.9" width="1.4" height="60.5" fill="#f2000a"/>
<rect x="304.7" y="251.9" width="1.3" height="60.5" fill="#f2000a"/>
<rect x="306.6" y="251.9" width="1.5" height="60.5" fill="#f2000a"/>
<rect x="300.0" y="251.9" width="10.4" height="60.5" fill="#a00048"/>
<rect x="300.0" y="251.9" width="5.9" height="60.5" fill="#74006a"/>
<rect x="310.0" y="251.9" width="30.3" height="60.5" fill="#ff0000"/>
<rect x="339.9" y="251.9" width="2.9" height="60.5" fill="#ff8000"/>
<rect x="342.4" y="251.9" width="2.9" height="60.5" fill="#ffff00"/>
<rect x="344.8" y="251.9" width="2.9" height="60.5" fill="#50c000"/>
<rect x="347.3" y="251.9" width="25.3" height="60.5" fill="#008000"/>
<rect x="372.2" y="251.9" width="10.4" height="60.5" fill="#50c000"/>
<rect x="382.2" y="251.9" width="4.1" height="60.5" fill="#ffff00"/>
<rect x="385.9" y="251.9" width="7.9" height="60.5" fill="#ff8000"/>
<rect x="393.4" y="251.9" width="27.8" height="60.5" fill="#ff0000"/>
<rect x="420.8" y="251.9" width="9.1" height="60.5" fill="#d08000"/>
<rect x="429.5" y="251.9" width="36.5" height="60.5" fill="#ffff00"/>
<rect x="465.7" y="251.9" width="9.1" height="60.5" fill="#ff8000"/>
<rect x="474.4" y="251.9" width="25.3" height="60.5" fill="#ff0000"/>
<rect x="499.3" y="251.9" width="12.9" height="60.5" fill="#ff8000"/>
<rect x="511.8" y="251.9" width="10.4" height="60.5" fill="#d08000"/>
<rect x="521.7" y="251.9" width="6.6" height="60.5" fill="#ffff00"/>
<rect x="528.0" y="251.9" width="11.6" height="60.5" fill="#50c000"/>
<rect x="539.2" y="251.9" width="12.9" height="60.5" fill="#008000"/>
<rect x="551.6" y="251.9" width="22.8" height="60.5" fill="#00ff00"/>
<rect x="574.0" y="251.9" width="7.9" height="60.5" fill="#008000"/>
<rect x="388.3" y="251.9" width="1.2" height="60.5" fill="#ff0000"/>
<rect x="391.6" y="251.9" width="1.1" height="60.5" fill="#ff0000"/>
<rect x="475.9" y="251.9" width="1.1" height="60.5" fill="#ff8000"/>
<rect x="478.6" y="251.9" width="1.0" height="60.5" fill="#ff8000"/>
<rect x="481.7" y="251.9" width="1.0" height="60.5" fill="#ff8000"/>
<rect x="484.4" y="251.9" width="1.3" height="60.5" fill="#ff8000"/>
<rect x="486.6" y="251.9" width="1.4" height="60.5" fill="#ff8000"/>
<rect x="496.5" y="251.9" width="1.1" height="60.5" fill="#ff8000"/>
<rect x="502.0" y="251.9" width="1.1" height="60.5" fill="#ff0000"/>
<rect x="504.4" y="251.9" width="1.3" height="60.5" fill="#ff0000"/>
<rect x="510.0" y="251.9" width="1.2" height="60.5" fill="#ff0000"/>
<rect x="312.8" y="251.9" width="1.4" height="60.5" fill="#f2000a"/>
<rect x="315.0" y="251.9" width="1.0" height="60.5" fill="#f2000a"/>
<rect x="318.7" y="251.9" width="1.2" height="60.5" fill="#f2000a"/>
<rect x="321.8" y="251.9" width="1.1" height="60.5" fill="#f2000a"/>
<rect x="324.1" y="251.9" width="1.1" height="60.5" fill="#f2000a"/>
<rect x="331.3" y="251.9" width="1.4" height="60.5" fill="#f2000a"/>
<rect x="333.9" y="251.9" width="1.1" height="60.5" fill="#f2000a"/>
<rect x="570.0" y="251.9" width="5.4" height="60.5" fill="#00ff00"/>
<rect x="575.0" y="251.9" width="16.6" height="60.5" fill="#008000"/>
<rect x="591.2" y="251.9" width="15.3" height="60.5" fill="#50c000"/>
<rect x="606.1" y="251.9" width="12.9" height="60.5" fill="#008000"/>
<rect x="618.6" y="251.9" width="65.2" height="60.5" fill="#00ff00"/>
<rect x="683.4" y="251.9" width="11.6" height="60.5" fill="#008000"/>
<rect x="694.6" y="251.9" width="10.4" height="60.5" fill="#00c080"/>
<rect x="704.5" y="251.9" width="35.3" height="60.5" fill="#00ffff"/>
<rect x="739.4" y="251.9" width="20.3" height="60.5" fill="#00c080"/>
<rect x="759.3" y="251.9" width="25.3" height="60.5" fill="#00ffff"/>
<rect x="784.3" y="251.9" width="67.7" height="60.5" fill="#0080ff"/>
<rect x="639.8" y="251.9" width="1.3" height="60.5" fill="#00c080"/>
<rect x="641.9" y="251.9" width="1.5" height="60.5" fill="#00c080"/>
<rect x="643.9" y="251.9" width="1.2" height="60.5" fill="#00c080"/>
<rect x="646.5" y="251.9" width="1.2" height="60.5" fill="#00c080"/>
<rect x="649.1" y="251.9" width="1.5" height="60.5" fill="#00c080"/>
<rect x="651.5" y="251.9" width="1.4" height="60.5" fill="#00c080"/>
<rect x="654.3" y="251.9" width="1.2" height="60.5" fill="#00c080"/>
<rect x="706.8" y="251.9" width="1.0" height="60.5" fill="#00c080"/>
<rect x="709.0" y="251.9" width="1.3" height="60.5" fill="#00c080"/>
<rect x="712.3" y="251.9" width="1.0" height="60.5" fill="#00c080"/>
<rect x="714.9" y="251.9" width="1.0" height="60.5" fill="#00c080"/>
<rect x="717.8" y="251.9" width="1.4" height="60.5" fill="#00c080"/>
<rect x="721.7" y="251.9" width="1.0" height="60.5" fill="#00c080"/>
<rect x="725.5" y="251.9" width="1.1" height="60.5" fill="#00c080"/>
<rect x="727.6" y="251.9" width="1.1" height="60.5" fill="#00c080"/>
<rect x="748.8" y="251.9" width="1.4" height="60.5" fill="#00ffff"/>
<rect x="752.6" y="251.9" width="1.4" height="60.5" fill="#00ffff"/>
<rect x="755.9" y="251.9" width="1.5" height="60.5" fill="#00ffff"/>
<rect x="788.6" y="251.9" width="1.0" height="60.5" fill="#00ffff"/>
<rect x="791.7" y="251.9" width="1.3" height="60.5" fill="#00ffff"/>
<rect x="794.7" y="251.9" width="1.1" height="60.5" fill="#00ffff"/>
<rect x="797.3" y="251.9" width="1.4" height="60.5" fill="#00ffff"/>
<rect x="800.4" y="251.9" width="1.3" height="60.5" fill="#00ffff"/>
<rect x="803.6" y="251.9" width="1.3" height="60.5" fill="#00ffff"/>
<rect x="807.8" y="251.9" width="1.1" height="60.5" fill="#00ffff"/>
<rect x="811.0" y="251.9" width="1.3" height="60.5" fill="#00ffff"/>
<rect x="813.8" y="251.9" width="1.2" height="60.5" fill="#00ffff"/>
<rect x="815.6" y="251.9" width="1.4" height="60.5" fill="#00ffff"/>
<rect x="818.2" y="251.9" width="1.3" height="60.5" fill="#00ffff"/>
<rect x="820.1" y="251.9" width="1.1" height="60.5" fill="#00ffff"/>
<rect x="822.1" y="251.9" width="1.4" height="60.5" fill="#00ffff"/>
<rect x="824.2" y="251.9" width="1.5" height="60.5" fill="#00ffff"/>
<rect x="826.8" y="251.9" width="1.2" height="60.5" fill="#00ffff"/>
<rect x="829.7" y="251.9" width="1.3" height="60.5" fill="#00ffff"/>
<rect x="834.5" y="251.9" width="1.4" height="60.5" fill="#00ffff"/>
<rect x="836.8" y="251.9" width="1.0" height="60.5" fill="#00ffff"/>
<rect x="838.8" y="251.9" width="1.3" height="60.5" fill="#00ffff"/>
<rect x="841.7" y="251.9" width="1.1" height="60.5" fill="#00ffff"/>
<rect x="844.3" y="251.9" width="1.2" height="60.5" fill="#00ffff"/>
<rect x="846.3" y="251.9" width="1.1" height="60.5" fill="#00ffff"/>
<rect x="844.0" y="251.9" width="24.1" height="60.5" fill="#00ffff"/>
<rect x="867.7" y="251.9" width="22.8" height="60.5" fill="#00c080"/>
<rect x="890.1" y="251.9" width="14.1" height="60.5" fill="#00ffff"/>
<rect x="903.8" y="251.9" width="12.9" height="60.5" fill="#0080ff"/>
<rect x="916.2" y="251.9" width="50.2" height="60.5" fill="#0000ff"/>
<rect x="966.1" y="251.9" width="15.3" height="60.5" fill="#0080ff"/>
<rect x="981.0" y="251.9" width="27.8" height="60.5" fill="#0080ff"/>
<rect x="1008.4" y="251.9" width="35.3" height="60.5" fill="#0000ff"/>
<rect x="1043.3" y="251.9" width="65.2" height="60.5" fill="#0000dc"/>
<rect x="875.0" y="251.9" width="1.4" height="60.5" fill="#00ffff"/>
<rect x="878.1" y="251.9" width="1.0" height="60.5" fill="#00ffff"/>
<rect x="908.9" y="251.9" width="1.4" height="60.5" fill="#00ffff"/>
<rect x="914.6" y="251.9" width="1.0" height="60.5" fill="#00ffff"/>
<rect x="920.0" y="251.9" width="1.2" height="60.5" fill="#0000dc"/>
<rect x="922.1" y="251.9" width="1.2" height="60.5" fill="#0000dc"/>
<rect x="928.2" y="251.9" width="1.1" height="60.5" fill="#0000dc"/>
<rect x="931.4" y="251.9" width="1.5" height="60.5" fill="#0000dc"/>
<rect x="933.7" y="251.9" width="1.2" height="60.5" fill="#0000dc"/>
<rect x="937.1" y="251.9" width="1.2" height="60.5" fill="#0000dc"/>
<rect x="939.6" y="251.9" width="1.0" height="60.5" fill="#0000dc"/>
<rect x="941.6" y="251.9" width="1.1" height="60.5" fill="#0000dc"/>
<rect x="947.1" y="251.9" width="1.1" height="60.5" fill="#0000dc"/>
<rect x="949.5" y="251.9" width="1.4" height="60.5" fill="#0000dc"/>
<rect x="952.6" y="251.9" width="1.5" height="60.5" fill="#0000dc"/>
<rect x="955.9" y="251.9" width="1.4" height="60.5" fill="#0000dc"/>
<rect x="957.7" y="251.9" width="1.2" height="60.5" fill="#0000dc"/>
<rect x="960.7" y="251.9" width="1.1" height="60.5" fill="#0000dc"/>
<rect x="962.6" y="251.9" width="1.1" height="60.5" fill="#0000dc"/>
<rect x="981.9" y="251.9" width="1.5" height="60.5" fill="#00ffff"/>
<rect x="985.1" y="251.9" width="1.4" height="60.5" fill="#00ffff"/>
<rect x="987.3" y="251.9" width="1.3" height="60.5" fill="#00ffff"/>
<rect x="991.4" y="251.9" width="1.3" height="60.5" fill="#00ffff"/>
<rect x="993.4" y="251.9" width="1.6" height="60.5" fill="#00ffff"/>
<rect x="1002.3" y="251.9" width="1.4" height="60.5" fill="#00ffff"/>
<rect x="1005.4" y="251.9" width="1.3" height="60.5" fill="#00ffff"/>
<rect x="1009.7" y="251.9" width="1.2" height="60.5" fill="#0000dc"/>
<rect x="1011.5" y="251.9" width="1.5" height="60.5" fill="#0000dc"/>
<rect x="1013.3" y="251.9" width="1.3" height="60.5" fill="#0000dc"/>
<rect x="1020.6" y="251.9" width="1.5" height="60.5" fill="#0000dc"/>
<rect x="1023.5" y="251.9" width="1.0" height="60.5" fill="#0000dc"/>
<rect x="1025.2" y="251.9" width="1.4" height="60.5" fill="#0000dc"/>
<rect x="1027.6" y="251.9" width="1.0" height="60.5" fill="#0000dc"/>
<rect x="1029.8" y="251.9" width="1.4" height="60.5" fill="#0000dc"/>
<rect x="1032.7" y="251.9" width="1.1" height="60.5" fill="#0000dc"/>
<rect x="1037.0" y="251.9" width="1.5" height="60.5" fill="#0000dc"/>
<rect x="1039.7" y="251.9" width="1.4" height="60.5" fill="#0000dc"/>
<rect x="1042.0" y="251.9" width="1.0" height="60.5" fill="#0000dc"/>
<rect x="1043.9" y="251.9" width="1.2" height="60.5" fill="#0000b4"/>
<rect x="1048.4" y="251.9" width="1.2" height="60.5" fill="#0000b4"/>
<rect x="1053.0" y="251.9" width="1.1" height="60.5" fill="#0000b4"/>
<rect x="1055.2" y="251.9" width="0.9" height="60.5" fill="#0000b4"/>
<rect x="1057.5" y="251.9" width="1.4" height="60.5" fill="#0000b4"/>
<rect x="1060.3" y="251.9" width="1.1" height="60.5" fill="#0000b4"/>
<rect x="1065.8" y="251.9" width="1.1" height="60.5" fill="#0000b4"/>
<rect x="1067.7" y="251.9" width="1.2" height="60.5" fill="#0000b4"/>
<rect x="1070.2" y="251.9" width="1.2" height="60.5" fill="#0000b4"/>
<rect x="1075.3" y="251.9" width="1.1" height="60.5" fill="#0000b4"/>
<rect x="1081.3" y="251.9" width="1.2" height="60.5" fill="#0000b4"/>
<rect x="1083.4" y="251.9" width="1.1" height="60.5" fill="#0000b4"/>
<rect x="1088.7" y="251.9" width="1.0" height="60.5" fill="#0000b4"/>
<rect x="1092.0" y="251.9" width="1.0" height="60.5" fill="#0000b4"/>
<rect x="1094.1" y="251.9" width="1.2" height="60.5" fill="#0000b4"/>
</g>
<polyline fill="none" stroke="#2a2a2a" stroke-width="0.9" points="38.7,297.5 200.0,297.2 215.0,297.0 219.3,295.0 223.0,296.9 300.0,297.2 341.0,296.1 383.5,294.4 425.8,292.9 468.2,291.2 510.5,289.9 552.9,288.7 594.9,287.3 637.8,284.8 680.4,282.4 722.5,279.4 765.0,276.9 807.4,274.4 850.0,271.8 892.6,267.9 935.4,264.4 977.8,261.9 1020.4,258.6 1063.2,256.1 1078.0,254.4 1105.6,253.9"/>
<polyline fill="none" stroke="#333" stroke-width="1.5" stroke-dasharray="0.9,2.5" points="38.7,297.3 200.0,297.0 215.0,296.8 219.3,294.8 223.0,296.7 300.0,297.0 341.0,295.9 383.5,294.2 425.8,292.7 468.2,291.0 510.5,289.7 552.9,288.5 594.9,287.1 637.8,284.6 680.4,282.2 722.5,279.2 765.0,276.7 807.4,274.2 850.0,271.6 892.6,267.7 935.4,264.2 977.8,261.7 1020.4,258.4 1063.2,255.9 1078.0,254.2 1105.6,253.7"/>
<clipPath id="c4"><rect x="39" y="320" width="1067" height="62"/></clipPath>
<g clip-path="url(#c4)">
<rect x="37.7" y="319.2" width="1068.9" height="63.8" fill="#ff0000"/>
<polygon fill="#74006a" points="37.5,319.2 47.4,319.2 49.9,383.0 37.5,383.0" />
<polygon fill="#a00048" points="47.4,319.2 49.9,319.2 53.7,383.0 49.9,383.0" />
<polygon fill="#ff0000" points="49.9,319.2 52.4,319.2 54.9,383.0 53.7,383.0" />
<polygon fill="#a00048" points="52.4,319.2 57.4,319.2 58.9,383.0 54.2,383.0" />
<polygon fill="#a00048" points="102.2,318.6 110.2,318.6 110.2,383.3 89.3,383.3 92.3,347.2 95.3,339.7 97.8,349.7 101.0,334.8" />
<polygon fill="#ff8000" points="115.5,319.2 118.9,319.2 118.9,383.0 115.5,383.0" />
<polygon fill="#d08000" points="118.4,319.2 160.0,319.2 140.1,383.0 118.4,383.0" />
<polygon fill="#ffff00" points="130.6,318.6 136.6,318.6 135.9,347.2 130.9,348.5" />
<polygon fill="#ff8000" points="139.6,318.6 144.1,318.6 142.6,383.3 139.1,383.3" />
<polygon fill="#ff0000" points="144.1,318.6 157.6,318.6 160.0,383.3 140.1,383.3" />
<polygon fill="#a00048" points="145.3,383.3 149.1,374.6 152.1,383.3" />
<polygon fill="#ff8000" points="157.1,318.6 166.0,318.6 169.5,339.7 168.5,364.7 164.5,383.3 159.5,383.3" />
<polygon fill="#ffff00" points="166.0,318.6 172.5,318.6 170.0,347.2 168.5,365.1 167.0,347.2" />
<polygon fill="#d08000" points="172.5,318.6 179.5,318.6 178.5,383.3 160.0,383.3 165.8,377.1 168.5,365.1 170.5,347.2" />
<polygon fill="#ffff00" points="179.0,319.2 184.2,319.2 184.7,383.0 178.0,383.0" />
<polygon fill="#50c000" points="184.0,319.2 208.4,319.2 205.9,383.0 184.5,383.0" />
<polygon fill="#008000" points="196.4,324.8 201.9,339.7 202.6,352.2 199.4,369.6 196.4,377.1 192.4,364.7 190.2,347.2 191.9,334.8" />
<polygon fill="#ffff00" points="208.1,319.2 212.1,319.2 209.6,383.0 205.6,383.0" />
<polygon fill="#d08000" points="211.9,319.2 222.1,319.2 224.6,383.0 209.4,383.0" />
<polygon fill="#ff8000" points="216.8,364.7 221.1,383.3 212.6,383.3" />
<polygon fill="#ffff00" points="221.8,319.2 224.6,319.2 225.6,383.0 223.8,383.0" />
<polygon fill="#50c000" points="224.3,319.2 227.3,319.2 226.8,383.0 225.1,383.0" />
<polygon fill="#008000" points="226.8,318.6 237.3,318.6 244.3,332.3 249.2,347.2 249.7,383.3 224.8,383.3" />
<polygon fill="#00ff00" points="233.0,342.2 236.3,349.7 237.3,383.3 230.0,383.3 230.8,349.7" />
<polygon fill="#50c000" points="237.3,318.6 273.1,318.6 269.7,383.3 249.7,383.3 249.2,347.2 244.3,332.3" />
<polygon fill="#008000" points="262.4,336.7 264.9,344.7 262.9,354.7 260.2,345.2" />
<polygon fill="#ffff00" points="272.9,319.2 278.1,319.2 275.6,383.0 269.2,383.0" />
<polygon fill="#ff8000" points="277.9,319.2 280.6,319.2 277.1,383.0 275.4,383.0" />
<polygon fill="#ff0000" points="280.4,319.2 311.5,319.2 311.5,383.0 276.6,383.0" />
<polygon fill="#a00048" points="294.6,318.6 306.5,318.6 309.7,336.4 314.2,359.5 318.6,385.3 281.6,385.3 285.7,359.5 289.3,336.4" />
<polygon fill="#74006a" points="299.9,330.7 303.5,338.1 307.1,354.1 309.7,368.4 312.9,385.3 286.2,385.3 289.3,368.4 292.8,350.6 296.4,336.4" />
<polygon fill="#ff8000" points="316.9,318.6 322.9,318.6 320.9,331.0 318.9,330.3" />
<polygon fill="#ff8000" points="334.9,319.2 340.1,319.2 340.1,383.0 333.6,383.0" />
<polygon fill="#ffff00" points="339.9,319.2 342.6,319.2 342.6,383.0 339.9,383.0" />
<polygon fill="#50c000" points="342.4,319.2 345.1,319.2 345.1,383.0 342.4,383.0" />
<polygon fill="#008000" points="344.8,319.2 366.3,319.2 374.7,351.1 365.0,383.0 344.8,383.0" />
<polygon fill="#00ff00" points="353.6,332.3 359.8,339.7 357.8,359.7 352.3,375.9 349.3,359.7 348.8,342.2" />
<polygon fill="#50c000" points="366.0,319.2 381.2,319.2 378.7,383.0 364.8,383.0 374.7,351.1" />
<polygon fill="#ffff00" points="381.0,319.2 385.0,319.2 383.7,383.0 378.5,383.0" />
<polygon fill="#ff8000" points="384.7,319.2 388.7,319.2 387.2,383.0 383.5,383.0" />
<polygon fill="#ff0000" points="387.2,319.2 417.3,319.2 422.3,383.0 385.9,383.0" />
<polygon fill="#a00048" points="394.2,383.3 398.4,375.9 404.6,378.4 409.6,383.3" />
<polygon fill="#ff8000" points="417.1,319.2 419.8,319.2 424.8,383.0 422.1,383.0" />
<polygon fill="#d08000" points="419.6,318.6 427.6,318.6 432.0,347.2 435.8,364.7 439.5,372.1 445.0,383.3 424.6,383.3" />
<polygon fill="#ffff00" points="427.1,318.6 463.7,318.6 458.4,383.3 444.5,383.3 439.0,372.1 436.5,363.4 433.3,369.6 431.5,347.2" />
<polygon fill="#ff8000" points="463.2,318.6 502.3,318.6 514.7,383.3 457.9,383.3" />
<polygon fill="#ff0000" points="466.4,383.3 469.4,347.2 474.4,329.8 484.4,322.8 491.8,330.3 496.8,347.2 504.8,383.3" />
<polygon fill="#f2000a" points="471.9,383.3 475.6,364.7 483.1,358.4 491.8,364.7 495.6,383.3" />
<polygon fill="#d08000" points="501.8,319.2 514.7,319.2 522.2,383.0 514.3,383.0" />
<polygon fill="#ffff00" points="514.3,319.2 525.7,319.2 530.7,383.0 521.7,383.0" />
<polygon fill="#50c000" points="525.5,319.2 535.7,319.2 536.9,383.0 530.4,383.0" />
<polygon fill="#008000" points="535.4,319.2 581.5,319.2 581.5,383.0 536.7,383.0" />
<polygon fill="#00ff00" points="550.8,326.6 560.6,323.0 567.7,325.7 573.0,326.6 577.5,334.6 581.0,347.0 578.4,359.5 574.8,384.4 550.8,384.4 547.2,347.0" />
<polygon fill="#00ff00" points="567.5,317.2 699.5,317.2 699.5,384.5 567.5,384.5" />
<polygon fill="#008000" points="567.0,317.2 586.4,317.2 599.9,344.6 603.9,317.2 618.8,317.2 614.8,347.1 616.3,384.5 602.4,384.5 599.9,349.6 591.4,384.5 573.5,384.5 581.2,347.1 578.5,326.2 567.0,325.2" />
<polygon fill="#50c000" points="586.4,318.5 603.9,318.5 599.9,344.6" />
<polygon fill="#50c000" points="591.4,383.2 602.4,383.2 599.9,349.6" />
<polygon fill="#00ff00" points="618.6,319.2 683.6,319.2 681.1,383.0 616.1,383.0" />
<polygon fill="#00c080" points="641.0,327.7 646.0,327.2 651.7,338.4 654.7,354.6 653.7,384.5 635.3,384.5 633.8,349.6 636.8,335.9" />
<polygon fill="#00c080" points="663.4,336.7 666.7,336.2 669.7,349.6 670.1,384.5 661.2,384.5 660.4,352.1" />
<polygon fill="#008000" points="683.4,318.5 694.6,318.5 690.6,349.6 697.1,383.2 680.9,383.2 686.6,349.6" />
<polygon fill="#00ff00" points="694.1,319.2 697.1,319.2 698.1,383.0 696.6,383.0" />
<polygon fill="#00c080" points="696.6,317.2 851.5,317.2 851.5,384.5 696.6,384.5" />
<polygon fill="#00ffff" points="700.5,384.5 699.5,339.7 702.0,332.7 709.5,331.7 719.5,329.7 729.4,330.9 734.4,327.2 741.9,327.7 759.3,329.2 769.3,324.2 784.3,322.2 786.7,317.2 851.5,317.2 851.5,384.5" />
<polygon fill="#00c080" points="743.1,383.2 748.1,375.8 753.1,383.2" />
<polygon fill="#0080ff" points="764.3,344.6 769.3,339.7 786.7,335.9 801.7,332.2 824.1,334.2 851.5,334.7 851.5,383.2 779.8,383.2 769.3,357.1" />
<polygon fill="#00ffff" points="841.0,318.4 1108.1,318.4 1108.1,384.4 841.0,384.4" />
<polygon fill="#0080ff" points="840.0,334.6 855.2,335.9 862.9,345.1 849.0,384.4 840.0,384.4" />
<polygon fill="#00c080" points="858.9,318.4 901.8,318.4 888.8,324.7 883.9,329.1 876.4,325.9" />
<polygon fill="#00c080" points="870.9,384.4 881.4,375.7 885.4,384.4" />
<polygon fill="#0080ff" points="901.3,384.4 890.1,345.1 897.6,337.1 911.3,329.6 926.2,323.4 953.6,321.7 966.1,324.7 978.5,332.1 993.5,334.1 1001.0,334.6 1008.4,324.7 1033.3,320.9 1108.1,320.9 1108.1,384.4" />
<polygon fill="#0000ff" points="910.8,384.4 910.0,344.6 915.0,337.1 928.7,333.4 958.6,331.6 968.6,337.1 980.0,344.6 973.5,384.4" />
<polygon fill="#0000dc" points="927.5,384.4 927.5,344.6 933.7,342.1 968.6,341.6 973.5,347.1 963.6,384.4" />
<polygon fill="#0000ff" points="1003.4,384.4 1003.4,342.1 1008.4,332.1 1023.4,329.6 1068.2,327.1 1093.1,329.1 1103.1,332.1 1108.1,337.1 1108.1,384.4" />
<polygon fill="#0000dc" points="1005.9,384.4 1005.9,344.6 1018.4,342.1 1040.8,342.1 1058.3,334.6 1083.2,337.1 1103.1,342.1 1105.6,384.4" />
<polygon fill="#0000b4" points="1025.9,384.4 1028.4,369.5 1043.3,354.5 1058.3,344.6 1078.2,349.6 1093.1,354.5 1100.6,384.4" />
</g>
<line x1="31.0" y1="320.2" x2="31.0" y2="383.0" stroke="#8a8a8a" stroke-width="1"/>
<line x1="27.0" y1="321.4" x2="31.0" y2="321.4" stroke="#8a8a8a" stroke-width="0.8"/>
<line x1="28.5" y1="326.0" x2="31.0" y2="326.0" stroke="#8a8a8a" stroke-width="0.8"/>
<line x1="27.0" y1="330.5" x2="31.0" y2="330.5" stroke="#8a8a8a" stroke-width="0.8"/>
<line x1="28.5" y1="335.1" x2="31.0" y2="335.1" stroke="#8a8a8a" stroke-width="0.8"/>
<line x1="27.0" y1="339.6" x2="31.0" y2="339.6" stroke="#8a8a8a" stroke-width="0.8"/>
<line x1="28.5" y1="344.2" x2="31.0" y2="344.2" stroke="#8a8a8a" stroke-width="0.8"/>
<line x1="27.0" y1="348.7" x2="31.0" y2="348.7" stroke="#8a8a8a" stroke-width="0.8"/>
<line x1="28.5" y1="353.3" x2="31.0" y2="353.3" stroke="#8a8a8a" stroke-width="0.8"/>
<line x1="27.0" y1="357.8" x2="31.0" y2="357.8" stroke="#8a8a8a" stroke-width="0.8"/>
<line x1="28.5" y1="362.4" x2="31.0" y2="362.4" stroke="#8a8a8a" stroke-width="0.8"/>
<line x1="27.0" y1="367.0" x2="31.0" y2="367.0" stroke="#8a8a8a" stroke-width="0.8"/>
<line x1="28.5" y1="371.5" x2="31.0" y2="371.5" stroke="#8a8a8a" stroke-width="0.8"/>
<line x1="27.0" y1="376.1" x2="31.0" y2="376.1" stroke="#8a8a8a" stroke-width="0.8"/>
<line x1="28.5" y1="380.6" x2="31.0" y2="380.6" stroke="#8a8a8a" stroke-width="0.8"/>
<text x="26.5" y="324.6" font-size="11.3" text-anchor="end" >0</text>
<text x="26.5" y="343.5" font-size="11.3" text-anchor="end" >2</text>
<text x="26.5" y="362.4" font-size="11.3" text-anchor="end" >4</text>
<text x="26.5" y="381.3" font-size="11.3" text-anchor="end" >6</text>
<line x1="31.0" y1="247.5" x2="31.0" y2="312.0" stroke="#8a8a8a" stroke-width="1"/>
<line x1="28.5" y1="311.0" x2="31.0" y2="311.0" stroke="#8a8a8a" stroke-width="0.7"/>
<line x1="28.5" y1="306.8" x2="31.0" y2="306.8" stroke="#8a8a8a" stroke-width="0.7"/>
<line x1="28.5" y1="302.5" x2="31.0" y2="302.5" stroke="#8a8a8a" stroke-width="0.7"/>
<line x1="28.5" y1="298.2" x2="31.0" y2="298.2" stroke="#8a8a8a" stroke-width="0.7"/>
<line x1="28.5" y1="294.0" x2="31.0" y2="294.0" stroke="#8a8a8a" stroke-width="0.7"/>
<line x1="28.5" y1="289.8" x2="31.0" y2="289.8" stroke="#8a8a8a" stroke-width="0.7"/>
<line x1="28.5" y1="285.5" x2="31.0" y2="285.5" stroke="#8a8a8a" stroke-width="0.7"/>
<line x1="28.5" y1="281.2" x2="31.0" y2="281.2" stroke="#8a8a8a" stroke-width="0.7"/>
<line x1="28.5" y1="277.0" x2="31.0" y2="277.0" stroke="#8a8a8a" stroke-width="0.7"/>
<line x1="28.5" y1="272.8" x2="31.0" y2="272.8" stroke="#8a8a8a" stroke-width="0.7"/>
<line x1="28.5" y1="268.5" x2="31.0" y2="268.5" stroke="#8a8a8a" stroke-width="0.7"/>
<line x1="28.5" y1="264.2" x2="31.0" y2="264.2" stroke="#8a8a8a" stroke-width="0.7"/>
<line x1="28.5" y1="260.0" x2="31.0" y2="260.0" stroke="#8a8a8a" stroke-width="0.7"/>
<line x1="28.5" y1="255.8" x2="31.0" y2="255.8" stroke="#8a8a8a" stroke-width="0.7"/>
<line x1="28.5" y1="251.5" x2="31.0" y2="251.5" stroke="#8a8a8a" stroke-width="0.7"/>
<text x="26.5" y="264.0" font-size="11.3" text-anchor="end" >20</text>
<line x1="27.0" y1="260.0" x2="31.0" y2="260.0" stroke="#8a8a8a" stroke-width="0.9"/>
<text x="26.5" y="284.5" font-size="11.3" text-anchor="end" >10</text>
<line x1="27.0" y1="280.5" x2="31.0" y2="280.5" stroke="#8a8a8a" stroke-width="0.9"/>
<text x="26.5" y="306.0" font-size="11.3" text-anchor="end" >0</text>
<line x1="27.0" y1="302.0" x2="31.0" y2="302.0" stroke="#8a8a8a" stroke-width="0.9"/>
<text transform="translate(45.5,251.0) rotate(-90)" font-size="11" text-anchor="middle">[m a.s.l]</text>
<text x="18.7" y="400.0" font-size="11.3" text-anchor="start" >[m]</text>
<line x1="1108.4" y1="320.2" x2="1108.4" y2="382.0" stroke="#9a9a9a" stroke-width="0.9"/>
<line x1="1108.4" y1="248.9" x2="1108.4" y2="312.0" stroke="#9a9a9a" stroke-width="0.9"/>
<line x1="1108.4" y1="321.4" x2="1111.4" y2="321.4" stroke="#9a9a9a" stroke-width="0.8"/>
<line x1="1108.4" y1="330.8" x2="1111.4" y2="330.8" stroke="#9a9a9a" stroke-width="0.8"/>
<line x1="1108.4" y1="340.3" x2="1111.4" y2="340.3" stroke="#9a9a9a" stroke-width="0.8"/>
<line x1="1108.4" y1="349.8" x2="1111.4" y2="349.8" stroke="#9a9a9a" stroke-width="0.8"/>
<line x1="1108.4" y1="359.2" x2="1111.4" y2="359.2" stroke="#9a9a9a" stroke-width="0.8"/>
<line x1="1108.4" y1="368.6" x2="1111.4" y2="368.6" stroke="#9a9a9a" stroke-width="0.8"/>
<line x1="1108.4" y1="378.1" x2="1111.4" y2="378.1" stroke="#9a9a9a" stroke-width="0.8"/>
<line x1="1108.4" y1="312.0" x2="1111.4" y2="312.0" stroke="#9a9a9a" stroke-width="0.8"/>
<line x1="1108.4" y1="303.5" x2="1111.4" y2="303.5" stroke="#9a9a9a" stroke-width="0.8"/>
<line x1="1108.4" y1="295.0" x2="1111.4" y2="295.0" stroke="#9a9a9a" stroke-width="0.8"/>
<line x1="1108.4" y1="286.5" x2="1111.4" y2="286.5" stroke="#9a9a9a" stroke-width="0.8"/>
<line x1="1108.4" y1="278.0" x2="1111.4" y2="278.0" stroke="#9a9a9a" stroke-width="0.8"/>
<line x1="1108.4" y1="269.5" x2="1111.4" y2="269.5" stroke="#9a9a9a" stroke-width="0.8"/>
<line x1="1108.4" y1="261.0" x2="1111.4" y2="261.0" stroke="#9a9a9a" stroke-width="0.8"/>
<line x1="1108.4" y1="252.5" x2="1111.4" y2="252.5" stroke="#9a9a9a" stroke-width="0.8"/>
<line x1="1105.6" y1="382.5" x2="1105.6" y2="387.0" stroke="#8a8a8a" stroke-width="1"/>
<line x1="1105.6" y1="249.1" x2="1105.6" y2="253.9" stroke="#7a7a7a" stroke-width="0.9"/>
<text x="1104.1" y="246.2" font-size="11.4" text-anchor="middle" >0</text>
<line x1="1063.1" y1="382.5" x2="1063.1" y2="387.0" stroke="#8a8a8a" stroke-width="1"/>
<line x1="1063.1" y1="251.3" x2="1063.1" y2="256.1" stroke="#7a7a7a" stroke-width="0.9"/>
<line x1="1020.6" y1="382.5" x2="1020.6" y2="387.0" stroke="#8a8a8a" stroke-width="1"/>
<line x1="1020.6" y1="253.8" x2="1020.6" y2="258.6" stroke="#7a7a7a" stroke-width="0.9"/>
<text x="1020.6" y="251.2" font-size="11.4" text-anchor="middle" >200</text>
<line x1="978.1" y1="382.5" x2="978.1" y2="387.0" stroke="#8a8a8a" stroke-width="1"/>
<line x1="978.1" y1="257.1" x2="978.1" y2="261.9" stroke="#7a7a7a" stroke-width="0.9"/>
<line x1="935.6" y1="382.5" x2="935.6" y2="387.0" stroke="#8a8a8a" stroke-width="1"/>
<line x1="935.6" y1="259.6" x2="935.6" y2="264.4" stroke="#7a7a7a" stroke-width="0.9"/>
<text x="935.6" y="258.1" font-size="11.4" text-anchor="middle" >400</text>
<line x1="893.1" y1="382.5" x2="893.1" y2="387.0" stroke="#8a8a8a" stroke-width="1"/>
<line x1="893.1" y1="263.1" x2="893.1" y2="267.9" stroke="#7a7a7a" stroke-width="0.9"/>
<line x1="850.6" y1="382.5" x2="850.6" y2="387.0" stroke="#8a8a8a" stroke-width="1"/>
<line x1="850.6" y1="266.9" x2="850.6" y2="271.7" stroke="#7a7a7a" stroke-width="0.9"/>
<text x="850.6" y="263.6" font-size="11.4" text-anchor="middle" >600</text>
<line x1="808.1" y1="382.5" x2="808.1" y2="387.0" stroke="#8a8a8a" stroke-width="1"/>
<line x1="808.1" y1="269.6" x2="808.1" y2="274.4" stroke="#7a7a7a" stroke-width="0.9"/>
<line x1="765.6" y1="382.5" x2="765.6" y2="387.0" stroke="#8a8a8a" stroke-width="1"/>
<line x1="765.6" y1="272.1" x2="765.6" y2="276.9" stroke="#7a7a7a" stroke-width="0.9"/>
<text x="765.6" y="269.9" font-size="11.4" text-anchor="middle" >800</text>
<line x1="723.1" y1="382.5" x2="723.1" y2="387.0" stroke="#8a8a8a" stroke-width="1"/>
<line x1="723.1" y1="274.6" x2="723.1" y2="279.4" stroke="#7a7a7a" stroke-width="0.9"/>
<line x1="680.6" y1="382.5" x2="680.6" y2="387.0" stroke="#8a8a8a" stroke-width="1"/>
<line x1="680.6" y1="277.6" x2="680.6" y2="282.4" stroke="#7a7a7a" stroke-width="0.9"/>
<text x="680.6" y="277.4" font-size="11.4" text-anchor="middle" >1000</text>
<line x1="638.1" y1="382.5" x2="638.1" y2="387.0" stroke="#8a8a8a" stroke-width="1"/>
<line x1="638.1" y1="280.0" x2="638.1" y2="284.8" stroke="#7a7a7a" stroke-width="0.9"/>
<line x1="595.6" y1="382.5" x2="595.6" y2="387.0" stroke="#8a8a8a" stroke-width="1"/>
<line x1="595.6" y1="282.5" x2="595.6" y2="287.3" stroke="#7a7a7a" stroke-width="0.9"/>
<text x="595.6" y="279.9" font-size="11.4" text-anchor="middle" >1200</text>
<line x1="553.1" y1="382.5" x2="553.1" y2="387.0" stroke="#8a8a8a" stroke-width="1"/>
<line x1="553.1" y1="283.9" x2="553.1" y2="288.7" stroke="#7a7a7a" stroke-width="0.9"/>
<line x1="510.6" y1="382.5" x2="510.6" y2="387.0" stroke="#8a8a8a" stroke-width="1"/>
<line x1="510.6" y1="285.1" x2="510.6" y2="289.9" stroke="#7a7a7a" stroke-width="0.9"/>
<text x="510.6" y="283.7" font-size="11.4" text-anchor="middle" >1400</text>
<line x1="468.1" y1="382.5" x2="468.1" y2="387.0" stroke="#8a8a8a" stroke-width="1"/>
<line x1="468.1" y1="286.4" x2="468.1" y2="291.2" stroke="#7a7a7a" stroke-width="0.9"/>
<line x1="425.6" y1="382.5" x2="425.6" y2="387.0" stroke="#8a8a8a" stroke-width="1"/>
<line x1="425.6" y1="288.1" x2="425.6" y2="292.9" stroke="#7a7a7a" stroke-width="0.9"/>
<text x="425.6" y="286.2" font-size="11.4" text-anchor="middle" >1600</text>
<line x1="383.1" y1="382.5" x2="383.1" y2="387.0" stroke="#8a8a8a" stroke-width="1"/>
<line x1="383.1" y1="289.6" x2="383.1" y2="294.4" stroke="#7a7a7a" stroke-width="0.9"/>
<line x1="340.6" y1="382.5" x2="340.6" y2="387.0" stroke="#8a8a8a" stroke-width="1"/>
<line x1="340.6" y1="291.3" x2="340.6" y2="296.1" stroke="#7a7a7a" stroke-width="0.9"/>
<text x="340.6" y="289.9" font-size="11.4" text-anchor="middle" >1800</text>
<line x1="298.1" y1="382.5" x2="298.1" y2="387.0" stroke="#8a8a8a" stroke-width="1"/>
<line x1="298.1" y1="292.4" x2="298.1" y2="297.2" stroke="#7a7a7a" stroke-width="0.9"/>
<line x1="255.6" y1="382.5" x2="255.6" y2="387.0" stroke="#8a8a8a" stroke-width="1"/>
<line x1="255.6" y1="292.2" x2="255.6" y2="297.0" stroke="#7a7a7a" stroke-width="0.9"/>
<text x="255.6" y="291.2" font-size="11.4" text-anchor="middle" >2000</text>
<line x1="213.1" y1="382.5" x2="213.1" y2="387.0" stroke="#8a8a8a" stroke-width="1"/>
<line x1="213.1" y1="292.2" x2="213.1" y2="297.0" stroke="#7a7a7a" stroke-width="0.9"/>
<line x1="170.6" y1="382.5" x2="170.6" y2="387.0" stroke="#8a8a8a" stroke-width="1"/>
<line x1="170.6" y1="292.5" x2="170.6" y2="297.3" stroke="#7a7a7a" stroke-width="0.9"/>
<text x="170.6" y="289.4" font-size="11.4" text-anchor="middle" >2200</text>
<line x1="128.1" y1="382.5" x2="128.1" y2="387.0" stroke="#8a8a8a" stroke-width="1"/>
<line x1="128.1" y1="292.5" x2="128.1" y2="297.3" stroke="#7a7a7a" stroke-width="0.9"/>
<line x1="85.6" y1="382.5" x2="85.6" y2="387.0" stroke="#8a8a8a" stroke-width="1"/>
<line x1="85.6" y1="292.6" x2="85.6" y2="297.4" stroke="#7a7a7a" stroke-width="0.9"/>
<text x="85.6" y="289.4" font-size="11.4" text-anchor="middle" >2400</text>
<line x1="43.1" y1="382.5" x2="43.1" y2="387.0" stroke="#8a8a8a" stroke-width="1"/>
<line x1="43.1" y1="292.7" x2="43.1" y2="297.5" stroke="#7a7a7a" stroke-width="0.9"/>
<text x="51.7" y="288.7" font-size="11.3" text-anchor="start" >[m]</text>
<text x="1044.5" y="243.7" font-size="19.2" text-anchor="start" >ENE</text>
<text x="876.2" y="305.5" font-size="15.4" text-anchor="start" >inverse model resistivity section</text>
<text x="274.3" y="410.3" font-size="15.45" text-anchor="start" >apparent resistivity pseudosection</text>
<clipPath id="c5"><polygon points="204.5,471.6 256.0,471.6 340.7,471.6 383.0,470.8 426.0,469.3 468.5,468.0 510.6,466.6 553.0,464.3 595.3,462.3 638.1,460.3 680.5,457.9 722.8,455.1 765.5,451.8 807.7,447.7 851.0,444.6 892.5,441.4 935.0,438.8 977.3,436.3 1020.5,433.6 1055.0,431.8 1062.0,429.4 1105.3,428.4 1105.3,446.6 1062.0,448.4 1055.0,448.4 1020.5,449.8 977.3,452.0 935.0,454.1 892.5,456.2 851.0,459.0 807.7,461.6 765.5,465.2 745.0,466.6 722.8,468.1 680.5,470.5 638.1,472.4 595.3,474.0 553.0,475.6 510.6,477.5 468.5,478.4 465.0,478.5 426.0,479.7 383.0,481.2 340.7,482.0 256.0,481.9 204.5,481.9"/></clipPath>
<g clip-path="url(#c5)">
<rect x="202.5" y="425.9" width="9.1" height="59.1" fill="#ff0000"/>
<rect x="211.2" y="425.9" width="25.3" height="59.1" fill="#a00048"/>
<rect x="212.9" y="425.9" width="14.8" height="59.1" fill="#74006a"/>
<rect x="236.1" y="425.9" width="39.0" height="59.1" fill="#ff8000"/>
<rect x="274.7" y="425.9" width="7.9" height="59.1" fill="#ffff00"/>
<rect x="282.2" y="425.9" width="35.3" height="59.1" fill="#50c000"/>
<rect x="317.1" y="425.9" width="7.9" height="59.1" fill="#ff8000"/>
<rect x="324.5" y="425.9" width="6.6" height="59.1" fill="#ff0000"/>
<rect x="330.8" y="425.9" width="24.1" height="59.1" fill="#74006a"/>
<rect x="354.4" y="425.9" width="15.3" height="59.1" fill="#a00048"/>
<rect x="369.4" y="425.9" width="15.3" height="59.1" fill="#ff0000"/>
<rect x="384.3" y="425.9" width="30.3" height="59.1" fill="#ff8000"/>
<rect x="414.2" y="425.9" width="55.2" height="59.1" fill="#ff0000"/>
<rect x="469.0" y="425.9" width="7.9" height="59.1" fill="#ff8000"/>
<rect x="210.1" y="425.9" width="1.4" height="59.1" fill="#ff0000"/>
<rect x="213.8" y="425.9" width="1.5" height="59.1" fill="#ff0000"/>
<rect x="217.6" y="425.9" width="1.1" height="59.1" fill="#ff0000"/>
<rect x="221.4" y="425.9" width="1.0" height="59.1" fill="#ff0000"/>
<rect x="224.7" y="425.9" width="1.2" height="59.1" fill="#ff0000"/>
<rect x="229.5" y="425.9" width="1.2" height="59.1" fill="#ff0000"/>
<rect x="255.2" y="425.9" width="1.5" height="59.1" fill="#ff0000"/>
<rect x="257.9" y="425.9" width="1.1" height="59.1" fill="#ff0000"/>
<rect x="260.0" y="425.9" width="1.6" height="59.1" fill="#ff0000"/>
<rect x="238.4" y="425.9" width="1.0" height="59.1" fill="#d08000"/>
<rect x="241.3" y="425.9" width="1.4" height="59.1" fill="#d08000"/>
<rect x="245.7" y="425.9" width="1.1" height="59.1" fill="#d08000"/>
<rect x="249.1" y="425.9" width="1.2" height="59.1" fill="#d08000"/>
<rect x="251.7" y="425.9" width="1.3" height="59.1" fill="#d08000"/>
<rect x="254.3" y="425.9" width="1.2" height="59.1" fill="#d08000"/>
<rect x="260.3" y="425.9" width="1.3" height="59.1" fill="#d08000"/>
<rect x="266.7" y="425.9" width="1.5" height="59.1" fill="#d08000"/>
<rect x="270.5" y="425.9" width="1.1" height="59.1" fill="#d08000"/>
<rect x="273.3" y="425.9" width="1.5" height="59.1" fill="#d08000"/>
<rect x="286.0" y="425.9" width="1.6" height="59.1" fill="#ffff00"/>
<rect x="289.7" y="425.9" width="1.4" height="59.1" fill="#ffff00"/>
<rect x="292.6" y="425.9" width="1.6" height="59.1" fill="#ffff00"/>
<rect x="304.3" y="425.9" width="1.7" height="59.1" fill="#ffff00"/>
<rect x="308.3" y="425.9" width="1.3" height="59.1" fill="#ffff00"/>
<rect x="313.9" y="425.9" width="1.4" height="59.1" fill="#ffff00"/>
<rect x="355.4" y="425.9" width="1.3" height="59.1" fill="#ff0000"/>
<rect x="358.2" y="425.9" width="1.3" height="59.1" fill="#ff0000"/>
<rect x="360.1" y="425.9" width="1.1" height="59.1" fill="#ff0000"/>
<rect x="362.6" y="425.9" width="1.4" height="59.1" fill="#ff0000"/>
<rect x="385.8" y="425.9" width="1.3" height="59.1" fill="#ff0000"/>
<rect x="389.2" y="425.9" width="1.2" height="59.1" fill="#ff0000"/>
<rect x="392.3" y="425.9" width="1.6" height="59.1" fill="#ff0000"/>
<rect x="394.3" y="425.9" width="1.5" height="59.1" fill="#ff0000"/>
<rect x="397.4" y="425.9" width="1.1" height="59.1" fill="#ff0000"/>
<rect x="401.8" y="425.9" width="1.4" height="59.1" fill="#ff0000"/>
<rect x="405.1" y="425.9" width="1.5" height="59.1" fill="#ff0000"/>
<rect x="407.6" y="425.9" width="1.5" height="59.1" fill="#ff0000"/>
<rect x="421.3" y="425.9" width="1.2" height="59.1" fill="#a00048"/>
<rect x="426.7" y="425.9" width="1.2" height="59.1" fill="#a00048"/>
<rect x="429.2" y="425.9" width="1.0" height="59.1" fill="#a00048"/>
<rect x="432.7" y="425.9" width="0.9" height="59.1" fill="#a00048"/>
<rect x="435.0" y="425.9" width="1.2" height="59.1" fill="#a00048"/>
<rect x="440.6" y="425.9" width="1.1" height="59.1" fill="#a00048"/>
<rect x="443.2" y="425.9" width="1.4" height="59.1" fill="#a00048"/>
<rect x="445.9" y="425.9" width="1.1" height="59.1" fill="#a00048"/>
<rect x="448.7" y="425.9" width="1.4" height="59.1" fill="#a00048"/>
<rect x="457.0" y="425.9" width="1.1" height="59.1" fill="#a00048"/>
<rect x="460.6" y="425.9" width="1.3" height="59.1" fill="#a00048"/>
<rect x="465.6" y="425.9" width="1.2" height="59.1" fill="#a00048"/>
<rect x="465.0" y="425.9" width="6.6" height="59.1" fill="#ff0000"/>
<rect x="471.2" y="425.9" width="4.1" height="59.1" fill="#ff8000"/>
<rect x="475.0" y="425.9" width="2.9" height="59.1" fill="#ffff00"/>
<rect x="477.5" y="425.9" width="9.1" height="59.1" fill="#008000"/>
<rect x="486.2" y="425.9" width="24.1" height="59.1" fill="#00ff00"/>
<rect x="509.8" y="425.9" width="6.6" height="59.1" fill="#008000"/>
<rect x="516.1" y="425.9" width="11.6" height="59.1" fill="#ffff00"/>
<rect x="527.3" y="425.9" width="6.6" height="59.1" fill="#ff8000"/>
<rect x="533.5" y="425.9" width="21.6" height="59.1" fill="#ffff00"/>
<rect x="554.7" y="425.9" width="15.3" height="59.1" fill="#008000"/>
<rect x="569.6" y="425.9" width="35.3" height="59.1" fill="#00ff00"/>
<rect x="604.5" y="425.9" width="30.3" height="59.1" fill="#008000"/>
<rect x="634.4" y="425.9" width="40.3" height="59.1" fill="#ffff00"/>
<rect x="674.3" y="425.9" width="12.9" height="59.1" fill="#008000"/>
<rect x="686.7" y="425.9" width="11.6" height="59.1" fill="#00ff00"/>
<rect x="697.9" y="425.9" width="10.4" height="59.1" fill="#00c080"/>
<rect x="707.9" y="425.9" width="39.0" height="59.1" fill="#00ffff"/>
<rect x="516.3" y="425.9" width="1.2" height="59.1" fill="#50c000"/>
<rect x="521.6" y="425.9" width="1.5" height="59.1" fill="#50c000"/>
<rect x="523.7" y="425.9" width="1.4" height="59.1" fill="#50c000"/>
<rect x="529.5" y="425.9" width="1.5" height="59.1" fill="#50c000"/>
<rect x="535.8" y="425.9" width="1.5" height="59.1" fill="#50c000"/>
<rect x="538.8" y="425.9" width="1.1" height="59.1" fill="#50c000"/>
<rect x="544.7" y="425.9" width="1.4" height="59.1" fill="#50c000"/>
<rect x="549.6" y="425.9" width="1.2" height="59.1" fill="#50c000"/>
<rect x="531.9" y="425.9" width="1.0" height="59.1" fill="#d08000"/>
<rect x="570.3" y="425.9" width="1.1" height="59.1" fill="#008000"/>
<rect x="576.8" y="425.9" width="1.0" height="59.1" fill="#008000"/>
<rect x="583.1" y="425.9" width="1.1" height="59.1" fill="#008000"/>
<rect x="588.9" y="425.9" width="0.8" height="59.1" fill="#008000"/>
<rect x="595.3" y="425.9" width="0.9" height="59.1" fill="#008000"/>
<rect x="602.3" y="425.9" width="1.0" height="59.1" fill="#008000"/>
<rect x="608.3" y="425.9" width="0.8" height="59.1" fill="#00ff00"/>
<rect x="611.2" y="425.9" width="0.8" height="59.1" fill="#00ff00"/>
<rect x="617.8" y="425.9" width="1.1" height="59.1" fill="#00ff00"/>
<rect x="620.0" y="425.9" width="1.0" height="59.1" fill="#00ff00"/>
<rect x="627.5" y="425.9" width="1.2" height="59.1" fill="#00ff00"/>
<rect x="635.9" y="425.9" width="1.6" height="59.1" fill="#50c000"/>
<rect x="638.3" y="425.9" width="1.6" height="59.1" fill="#50c000"/>
<rect x="640.5" y="425.9" width="1.5" height="59.1" fill="#50c000"/>
<rect x="642.9" y="425.9" width="1.2" height="59.1" fill="#50c000"/>
<rect x="649.5" y="425.9" width="1.2" height="59.1" fill="#50c000"/>
<rect x="652.0" y="425.9" width="1.3" height="59.1" fill="#50c000"/>
<rect x="656.6" y="425.9" width="1.4" height="59.1" fill="#50c000"/>
<rect x="666.9" y="425.9" width="1.3" height="59.1" fill="#50c000"/>
<rect x="670.5" y="425.9" width="1.4" height="59.1" fill="#50c000"/>
<rect x="677.1" y="425.9" width="1.3" height="59.1" fill="#008000"/>
<rect x="679.9" y="425.9" width="1.1" height="59.1" fill="#008000"/>
<rect x="683.8" y="425.9" width="1.2" height="59.1" fill="#008000"/>
<rect x="735.0" y="425.9" width="85.2" height="59.1" fill="#00ffff"/>
<rect x="819.8" y="425.9" width="16.0" height="59.1" fill="#0080ff"/>
<rect x="835.4" y="425.9" width="71.3" height="59.1" fill="#0000dc"/>
<rect x="906.3" y="425.9" width="28.1" height="59.1" fill="#0080ff"/>
<rect x="934.0" y="425.9" width="78.3" height="59.1" fill="#0000dc"/>
<rect x="1011.9" y="425.9" width="9.1" height="59.1" fill="#0080ff"/>
<rect x="1020.5" y="425.9" width="88.7" height="59.1" fill="#0000b4"/>
<rect x="842.0" y="425.9" width="1.3" height="59.1" fill="#0000ff"/>
<rect x="845.1" y="425.9" width="1.3" height="59.1" fill="#0000ff"/>
<rect x="851.6" y="425.9" width="1.3" height="59.1" fill="#0000ff"/>
<rect x="856.5" y="425.9" width="1.0" height="59.1" fill="#0000ff"/>
<rect x="858.2" y="425.9" width="1.1" height="59.1" fill="#0000ff"/>
<rect x="862.9" y="425.9" width="1.1" height="59.1" fill="#0000ff"/>
<rect x="865.5" y="425.9" width="1.1" height="59.1" fill="#0000ff"/>
<rect x="873.0" y="425.9" width="1.4" height="59.1" fill="#0000ff"/>
<rect x="875.3" y="425.9" width="1.0" height="59.1" fill="#0000ff"/>
<rect x="877.9" y="425.9" width="1.2" height="59.1" fill="#0000ff"/>
<rect x="880.5" y="425.9" width="1.5" height="59.1" fill="#0000ff"/>
<rect x="888.7" y="425.9" width="1.1" height="59.1" fill="#0000ff"/>
<rect x="890.4" y="425.9" width="1.0" height="59.1" fill="#0000ff"/>
<rect x="892.9" y="425.9" width="1.1" height="59.1" fill="#0000ff"/>
<rect x="894.9" y="425.9" width="1.3" height="59.1" fill="#0000ff"/>
<rect x="897.5" y="425.9" width="1.1" height="59.1" fill="#0000ff"/>
<rect x="899.6" y="425.9" width="1.0" height="59.1" fill="#0000ff"/>
<rect x="902.6" y="425.9" width="1.4" height="59.1" fill="#0000ff"/>
<rect x="904.3" y="425.9" width="1.4" height="59.1" fill="#0000ff"/>
<rect x="935.8" y="425.9" width="0.9" height="59.1" fill="#0000ff"/>
<rect x="939.3" y="425.9" width="1.2" height="59.1" fill="#0000ff"/>
<rect x="942.0" y="425.9" width="1.2" height="59.1" fill="#0000ff"/>
<rect x="944.1" y="425.9" width="1.0" height="59.1" fill="#0000ff"/>
<rect x="946.9" y="425.9" width="0.9" height="59.1" fill="#0000ff"/>
<rect x="949.5" y="425.9" width="0.9" height="59.1" fill="#0000ff"/>
<rect x="957.3" y="425.9" width="1.2" height="59.1" fill="#0000ff"/>
<rect x="959.4" y="425.9" width="1.0" height="59.1" fill="#0000ff"/>
<rect x="961.4" y="425.9" width="1.1" height="59.1" fill="#0000ff"/>
<rect x="964.1" y="425.9" width="1.3" height="59.1" fill="#0000ff"/>
<rect x="966.5" y="425.9" width="1.1" height="59.1" fill="#0000ff"/>
<rect x="969.4" y="425.9" width="1.2" height="59.1" fill="#0000ff"/>
<rect x="971.9" y="425.9" width="0.9" height="59.1" fill="#0000ff"/>
<rect x="982.2" y="425.9" width="0.9" height="59.1" fill="#0000ff"/>
<rect x="986.6" y="425.9" width="1.1" height="59.1" fill="#0000ff"/>
<rect x="991.9" y="425.9" width="1.2" height="59.1" fill="#0000ff"/>
<rect x="994.7" y="425.9" width="0.8" height="59.1" fill="#0000ff"/>
<rect x="997.7" y="425.9" width="1.3" height="59.1" fill="#0000ff"/>
<rect x="1004.2" y="425.9" width="1.1" height="59.1" fill="#0000ff"/>
<rect x="1007.1" y="425.9" width="0.9" height="59.1" fill="#0000ff"/>
<rect x="1021.0" y="425.9" width="1.0" height="59.1" fill="#0000dc"/>
<rect x="1022.7" y="425.9" width="0.9" height="59.1" fill="#0000dc"/>
<rect x="1025.4" y="425.9" width="1.0" height="59.1" fill="#0000dc"/>
<rect x="1028.5" y="425.9" width="1.2" height="59.1" fill="#0000dc"/>
<rect x="1033.3" y="425.9" width="1.2" height="59.1" fill="#0000dc"/>
<rect x="1035.5" y="425.9" width="1.1" height="59.1" fill="#0000dc"/>
<rect x="1037.5" y="425.9" width="0.8" height="59.1" fill="#0000dc"/>
<rect x="1044.8" y="425.9" width="0.8" height="59.1" fill="#0000dc"/>
<rect x="1047.2" y="425.9" width="1.2" height="59.1" fill="#0000dc"/>
<rect x="1049.2" y="425.9" width="1.0" height="59.1" fill="#0000dc"/>
<rect x="1052.0" y="425.9" width="1.3" height="59.1" fill="#0000dc"/>
<rect x="1056.8" y="425.9" width="0.9" height="59.1" fill="#0000dc"/>
<rect x="1062.2" y="425.9" width="1.2" height="59.1" fill="#0000dc"/>
<rect x="1064.8" y="425.9" width="1.0" height="59.1" fill="#0000dc"/>
<rect x="1067.1" y="425.9" width="0.8" height="59.1" fill="#0000dc"/>
<rect x="1072.0" y="425.9" width="1.3" height="59.1" fill="#0000dc"/>
<rect x="1074.4" y="425.9" width="1.2" height="59.1" fill="#0000dc"/>
<rect x="1076.4" y="425.9" width="1.1" height="59.1" fill="#0000dc"/>
<rect x="1079.2" y="425.9" width="1.1" height="59.1" fill="#0000dc"/>
<rect x="1081.4" y="425.9" width="0.9" height="59.1" fill="#0000dc"/>
<rect x="1084.3" y="425.9" width="1.2" height="59.1" fill="#0000dc"/>
<rect x="1086.2" y="425.9" width="1.2" height="59.1" fill="#0000dc"/>
<rect x="1091.0" y="425.9" width="0.9" height="59.1" fill="#0000dc"/>
<rect x="1093.0" y="425.9" width="1.2" height="59.1" fill="#0000dc"/>
<rect x="1099.9" y="425.9" width="0.9" height="59.1" fill="#0000dc"/>
</g>
<polyline fill="none" stroke="#2a2a2a" stroke-width="0.9" points="204.5,471.1 256.0,471.1 340.7,471.1 383.0,470.3 426.0,468.8 468.5,467.5 510.6,466.1 553.0,463.8 595.3,461.8 638.1,459.8 680.5,457.4 722.8,454.6 765.5,451.3 807.7,447.2 851.0,444.1 892.5,440.9 935.0,438.3 977.3,435.8 1020.5,433.1 1055.0,431.3 1062.0,428.9 1105.3,427.9"/>
<polyline fill="none" stroke="#333" stroke-width="1.5" stroke-dasharray="0.9,2.5" points="204.5,470.9 256.0,470.9 340.7,470.9 383.0,470.1 426.0,468.6 468.5,467.3 510.6,465.9 553.0,463.6 595.3,461.6 638.1,459.6 680.5,457.2 722.8,454.4 765.5,451.1 807.7,447.0 851.0,443.9 892.5,440.7 935.0,438.1 977.3,435.6 1020.5,432.9 1055.0,431.1 1062.0,428.7 1105.3,427.7"/>
<clipPath id="c6"><rect x="204" y="495" width="901" height="62"/></clipPath>
<g clip-path="url(#c6)">
<rect x="203.5" y="494.3" width="902.8" height="63.7" fill="#ff0000"/>
<polygon fill="#a00048" points="211.0,493.6 230.6,493.6 232.9,525.6 234.7,559.4 203.6,559.4 203.6,550.5 208.0,525.6" />
<polygon fill="#f2000a" points="230.6,493.6 234.7,493.6 236.5,525.6 238.3,559.4 234.7,559.4 232.9,525.6" />
<polygon fill="#74006a" points="220.5,514.6 226.7,523.8 230.2,539.8 232.9,559.4 209.8,559.4 211.6,534.5 215.1,521.1" />
<polygon fill="#ff8000" points="237.7,493.6 275.6,493.6 283.6,559.4 244.5,559.4 240.0,525.6" />
<polygon fill="#d08000" points="238.3,493.6 253.7,493.6 252.5,507.8 250.7,520.2 247.7,524.2 244.8,516.7 241.8,504.2" />
<polygon fill="#ff0000" points="259.6,516.7 262.3,525.6 268.5,536.3 272.1,545.2 274.4,559.4 253.4,559.4 255.2,534.5" />
<polygon fill="#d08000" points="264.4,493.6 275.1,493.6 279.2,525.6 284.0,559.4 276.9,559.4 273.0,541.6 268.5,511.4" />
<polygon fill="#ffff00" points="274.7,493.6 322.4,493.6 321.0,516.7 317.4,536.3 313.9,545.5 310.3,549.1 306.8,543.7 304.1,550.5 301.8,559.4 284.0,559.4 279.2,525.6" />
<polygon fill="#50c000" points="281.5,493.6 316.0,493.6 313.9,506.0 311.2,513.5 306.8,503.3 303.6,516.7 299.6,532.7 297.0,541.6 293.4,545.5 289.0,538.0 285.4,522.0 282.7,506.0" />
<polygon fill="#d08000" points="301.8,559.4 304.1,550.5 306.8,543.7 310.3,549.1 313.9,545.5 317.4,536.3 321.0,516.7 322.4,500.7 323.1,559.4" />
<polygon fill="#ff8000" points="322.1,493.6 324.6,493.6 324.2,559.4 322.4,559.4" />
<polygon fill="#ff0000" points="324.2,493.6 332.6,493.6 329.0,559.4 323.8,559.4" />
<polygon fill="#a00048" points="330.8,493.6 364.1,493.6 370.8,513.1 377.9,534.5 385.1,550.5 389.5,559.4 327.2,559.4" />
<polygon fill="#74006a" points="332.0,493.6 351.2,493.6 360.1,513.1 367.3,534.5 376.2,550.5 380.1,559.4 327.8,559.4 329.0,525.6" />
<polygon fill="#ff0000" points="366.9,493.5 387.3,493.5 391.8,507.2 399.3,524.7 403.3,558.3 394.3,558.3 379.4,534.6 372.4,519.7" />
<polygon fill="#ff8000" points="386.8,493.5 415.7,493.5 411.7,524.7 408.3,549.6 405.8,550.8 402.3,534.6 395.5,509.7" />
<polygon fill="#d08000" points="399.3,493.5 412.2,493.5 409.3,509.7 406.8,517.7 403.8,509.7" />
<polygon fill="#a00048" points="419.2,558.3 425.4,542.1 434.2,529.6 440.4,524.7 444.1,517.2 449.6,507.2 455.3,519.7 459.1,524.7 462.8,512.7 467.0,524.7 469.0,537.1 470.0,558.3" />
<polygon fill="#74006a" points="431.7,558.3 440.4,549.6 446.6,542.1 451.6,532.6 456.6,544.6 460.3,549.6 463.6,538.4 467.0,549.6 468.5,558.3" />
<polygon fill="#a00048" points="462.5,522.1 467.0,534.6 469.5,558.2 462.5,558.2" />
<polygon fill="#74006a" points="462.5,534.6 466.5,544.5 468.0,558.2 462.5,558.2" />
<polygon fill="#ff8000" points="473.5,494.3 475.7,494.3 477.0,558.0 470.0,558.0" />
<polygon fill="#ffff00" points="475.5,494.3 477.7,494.3 479.4,558.0 476.5,558.0" />
<polygon fill="#50c000" points="477.5,494.3 479.2,494.3 481.4,558.0 479.2,558.0" />
<polygon fill="#008000" points="478.7,494.3 517.8,494.3 517.8,558.0 480.9,558.0" />
<polygon fill="#00ff00" points="483.9,493.5 512.3,493.5 511.3,514.7 507.4,558.2 491.4,558.2 486.4,532.1 484.9,514.7" />
<polygon fill="#00c080" points="498.6,513.4 500.4,517.6 498.6,522.1 496.9,517.6" />
<polygon fill="#50c000" points="517.3,494.3 524.0,494.3 521.6,558.0 517.3,558.0" />
<polygon fill="#ffff00" points="523.5,493.5 551.4,493.5 554.7,514.7 561.7,558.2 520.8,558.2 522.3,514.7" />
<polygon fill="#d08000" points="531.0,502.2 537.2,514.7 544.7,524.6 552.7,529.6 555.2,558.2 524.3,558.2 526.0,527.1" />
<polygon fill="#ff8000" points="531.0,532.1 537.2,544.5 545.2,558.2 525.8,558.2" />
<polygon fill="#50c000" points="550.9,494.3 557.2,494.3 567.1,558.0 560.9,558.0" />
<polygon fill="#008000" points="554.7,493.5 561.4,493.5 567.1,514.7 573.4,539.6 579.6,544.5 587.1,527.1 590.8,542.1 599.5,550.8 607.5,493.5 639.9,493.5 636.9,507.2 629.4,522.6 622.0,517.1 614.5,510.9 610.7,524.6 607.0,539.6 601.5,558.2 564.7,558.2 559.7,514.7" />
<polygon fill="#00ff00" points="560.9,493.5 607.5,493.5 603.3,527.1 599.5,550.8 590.8,542.1 587.1,527.1 579.6,544.5 573.4,539.6 567.1,514.7" />
<polygon fill="#50c000" points="639.4,493.5 672.3,493.5 679.3,524.6 687.2,558.2 601.0,558.2 607.0,539.6 610.7,524.6 614.5,510.9 622.0,517.1 629.4,522.6 636.9,507.2" />
<polygon fill="#ffff00" points="611.5,558.2 613.2,547.0 615.7,542.1 620.7,548.3 627.4,558.2" />
<polygon fill="#ffff00" points="639.4,558.2 639.4,519.6 644.9,513.4 650.6,517.1 656.8,520.9 664.3,519.6 671.3,520.9 676.8,539.6 682.2,558.2" />
<polygon fill="#d08000" points="642.4,558.2 643.9,547.0 649.4,542.1 656.8,545.8 664.3,548.3 670.5,547.0 674.3,558.2" />
<polygon fill="#008000" points="671.8,493.5 683.5,493.5 689.2,527.1 694.7,558.2 686.7,558.2 679.3,524.6" />
<polygon fill="#00ff00" points="683.0,494.3 695.9,494.3 704.7,558.0 694.2,558.0" />
<polygon fill="#00c080" points="695.4,494.3 712.1,494.3 709.6,558.0 704.2,558.0" />
<polygon fill="#00ffff" points="711.6,493.5 746.5,493.5 746.5,558.2 709.1,558.2 706.7,527.1" />
<polygon fill="#00ffff" points="733.0,493.6 825.7,493.6 825.7,559.4 733.0,559.4" />
<polygon fill="#0080ff" points="730.9,519.9 733.4,517.8 737.5,518.5 738.7,530.9 741.0,534.5 742.3,543.4 745.1,543.4 747.3,520.6 751.7,519.4 753.5,525.6 755.3,539.8 757.9,560.3 730.5,560.3" />
<polygon fill="#00c080" points="776.5,559.4 779.3,543.8 786.9,544.5 790.4,559.4" />
<polygon fill="#0080ff" points="824.0,492.9 848.7,492.9 831.1,516.4 829.3,534.0 834.0,559.9 824.0,559.9 821.1,539.9 812.3,534.0 807.9,519.4 818.2,510.6" />
<polygon fill="#0000ff" points="848.1,492.9 1107.4,492.9 1107.4,559.9 833.4,559.9 828.7,534.0 830.5,516.4" />
<polygon fill="#0000dc" points="838.8,559.4 835.4,519.6 838.8,509.2 849.2,502.3 873.4,498.8 897.7,500.6 908.0,509.2 913.2,533.4 909.8,559.4" />
<polygon fill="#0000b4" points="849.2,559.4 847.5,523.0 852.7,517.9 873.4,514.4 894.2,516.1 899.4,533.4 897.7,559.4" />
<polygon fill="#0080ff" points="907.3,493.6 936.4,493.6 934.0,512.7 935.7,559.4 912.2,559.4 918.4,533.4 913.2,512.7" />
<polygon fill="#00ffff" points="916.7,559.4 921.9,547.3 927.4,559.4" />
<polygon fill="#0000dc" points="939.9,559.4 937.5,512.7 942.6,504.0 963.4,500.6 998.0,500.6 1013.6,505.7 1017.1,533.4 1016.0,559.4" />
<polygon fill="#0000b4" points="953.0,559.4 952.3,523.0 960.0,514.4 984.2,512.7 1004.9,514.4 1009.1,533.4 1008.4,559.4" />
<polygon fill="#0080ff" points="1020.2,494.3 1024.3,494.3 1023.6,558.0 1019.5,558.0" />
<polygon fill="#0000dc" points="1027.4,559.4 1026.4,509.2 1032.6,500.6 1067.2,498.8 1098.4,500.6 1108.8,505.7 1108.8,559.4" />
<polygon fill="#0000b4" points="1046.5,559.4 1044.7,523.0 1053.4,512.7 1081.1,510.9 1101.8,514.4 1108.8,519.6 1108.8,559.4" />
<polygon fill="#000082" points="1074.2,559.4 1077.6,543.8 1084.5,531.7 1091.5,543.8 1095.6,559.4" />
</g>
<line x1="198.6" y1="495.3" x2="198.6" y2="558.0" stroke="#8a8a8a" stroke-width="1"/>
<line x1="194.6" y1="496.5" x2="198.6" y2="496.5" stroke="#8a8a8a" stroke-width="0.8"/>
<line x1="196.1" y1="501.0" x2="198.6" y2="501.0" stroke="#8a8a8a" stroke-width="0.8"/>
<line x1="194.6" y1="505.6" x2="198.6" y2="505.6" stroke="#8a8a8a" stroke-width="0.8"/>
<line x1="196.1" y1="510.1" x2="198.6" y2="510.1" stroke="#8a8a8a" stroke-width="0.8"/>
<line x1="194.6" y1="514.7" x2="198.6" y2="514.7" stroke="#8a8a8a" stroke-width="0.8"/>
<line x1="196.1" y1="519.2" x2="198.6" y2="519.2" stroke="#8a8a8a" stroke-width="0.8"/>
<line x1="194.6" y1="523.8" x2="198.6" y2="523.8" stroke="#8a8a8a" stroke-width="0.8"/>
<line x1="196.1" y1="528.3" x2="198.6" y2="528.3" stroke="#8a8a8a" stroke-width="0.8"/>
<line x1="194.6" y1="532.9" x2="198.6" y2="532.9" stroke="#8a8a8a" stroke-width="0.8"/>
<line x1="196.1" y1="537.4" x2="198.6" y2="537.4" stroke="#8a8a8a" stroke-width="0.8"/>
<line x1="194.6" y1="542.0" x2="198.6" y2="542.0" stroke="#8a8a8a" stroke-width="0.8"/>
<line x1="196.1" y1="546.5" x2="198.6" y2="546.5" stroke="#8a8a8a" stroke-width="0.8"/>
<line x1="194.6" y1="551.1" x2="198.6" y2="551.1" stroke="#8a8a8a" stroke-width="0.8"/>
<line x1="196.1" y1="555.6" x2="198.6" y2="555.6" stroke="#8a8a8a" stroke-width="0.8"/>
<text x="194.1" y="500.0" font-size="11.3" text-anchor="end" >0</text>
<text x="194.1" y="518.9" font-size="11.3" text-anchor="end" >2</text>
<text x="194.1" y="537.8" font-size="11.3" text-anchor="end" >4</text>
<text x="194.1" y="556.7" font-size="11.3" text-anchor="end" >6</text>
<line x1="198.6" y1="420.0" x2="198.6" y2="485.0" stroke="#8a8a8a" stroke-width="1"/>
<line x1="196.1" y1="484.0" x2="198.6" y2="484.0" stroke="#8a8a8a" stroke-width="0.7"/>
<line x1="196.1" y1="479.8" x2="198.6" y2="479.8" stroke="#8a8a8a" stroke-width="0.7"/>
<line x1="196.1" y1="475.5" x2="198.6" y2="475.5" stroke="#8a8a8a" stroke-width="0.7"/>
<line x1="196.1" y1="471.2" x2="198.6" y2="471.2" stroke="#8a8a8a" stroke-width="0.7"/>
<line x1="196.1" y1="467.0" x2="198.6" y2="467.0" stroke="#8a8a8a" stroke-width="0.7"/>
<line x1="196.1" y1="462.8" x2="198.6" y2="462.8" stroke="#8a8a8a" stroke-width="0.7"/>
<line x1="196.1" y1="458.5" x2="198.6" y2="458.5" stroke="#8a8a8a" stroke-width="0.7"/>
<line x1="196.1" y1="454.2" x2="198.6" y2="454.2" stroke="#8a8a8a" stroke-width="0.7"/>
<line x1="196.1" y1="450.0" x2="198.6" y2="450.0" stroke="#8a8a8a" stroke-width="0.7"/>
<line x1="196.1" y1="445.8" x2="198.6" y2="445.8" stroke="#8a8a8a" stroke-width="0.7"/>
<line x1="196.1" y1="441.5" x2="198.6" y2="441.5" stroke="#8a8a8a" stroke-width="0.7"/>
<line x1="196.1" y1="437.2" x2="198.6" y2="437.2" stroke="#8a8a8a" stroke-width="0.7"/>
<line x1="196.1" y1="433.0" x2="198.6" y2="433.0" stroke="#8a8a8a" stroke-width="0.7"/>
<line x1="196.1" y1="428.8" x2="198.6" y2="428.8" stroke="#8a8a8a" stroke-width="0.7"/>
<line x1="196.1" y1="424.5" x2="198.6" y2="424.5" stroke="#8a8a8a" stroke-width="0.7"/>
<line x1="196.1" y1="420.2" x2="198.6" y2="420.2" stroke="#8a8a8a" stroke-width="0.7"/>
<text x="194.1" y="436.0" font-size="11.3" text-anchor="end" >20</text>
<line x1="194.6" y1="432.0" x2="198.6" y2="432.0" stroke="#8a8a8a" stroke-width="0.9"/>
<text x="194.1" y="457.0" font-size="11.3" text-anchor="end" >10</text>
<line x1="194.6" y1="453.0" x2="198.6" y2="453.0" stroke="#8a8a8a" stroke-width="0.9"/>
<text x="194.1" y="478.5" font-size="11.3" text-anchor="end" >0</text>
<line x1="194.6" y1="474.5" x2="198.6" y2="474.5" stroke="#8a8a8a" stroke-width="0.9"/>
<text transform="translate(174.0,440.0) rotate(-90)" font-size="11" text-anchor="middle">[m a.s.l]</text>
<text transform="translate(174.0,500.3) rotate(-90)" font-size="11" text-anchor="middle">[m]</text>
<line x1="1108.1" y1="495.3" x2="1108.1" y2="557.0" stroke="#9a9a9a" stroke-width="0.9"/>
<line x1="1108.1" y1="422.9" x2="1108.1" y2="485.0" stroke="#9a9a9a" stroke-width="0.9"/>
<line x1="1108.1" y1="496.5" x2="1111.1" y2="496.5" stroke="#9a9a9a" stroke-width="0.8"/>
<line x1="1108.1" y1="505.9" x2="1111.1" y2="505.9" stroke="#9a9a9a" stroke-width="0.8"/>
<line x1="1108.1" y1="515.4" x2="1111.1" y2="515.4" stroke="#9a9a9a" stroke-width="0.8"/>
<line x1="1108.1" y1="524.9" x2="1111.1" y2="524.9" stroke="#9a9a9a" stroke-width="0.8"/>
<line x1="1108.1" y1="534.3" x2="1111.1" y2="534.3" stroke="#9a9a9a" stroke-width="0.8"/>
<line x1="1108.1" y1="543.8" x2="1111.1" y2="543.8" stroke="#9a9a9a" stroke-width="0.8"/>
<line x1="1108.1" y1="553.2" x2="1111.1" y2="553.2" stroke="#9a9a9a" stroke-width="0.8"/>
<line x1="1108.1" y1="485.0" x2="1111.1" y2="485.0" stroke="#9a9a9a" stroke-width="0.8"/>
<line x1="1108.1" y1="476.5" x2="1111.1" y2="476.5" stroke="#9a9a9a" stroke-width="0.8"/>
<line x1="1108.1" y1="468.0" x2="1111.1" y2="468.0" stroke="#9a9a9a" stroke-width="0.8"/>
<line x1="1108.1" y1="459.5" x2="1111.1" y2="459.5" stroke="#9a9a9a" stroke-width="0.8"/>
<line x1="1108.1" y1="451.0" x2="1111.1" y2="451.0" stroke="#9a9a9a" stroke-width="0.8"/>
<line x1="1108.1" y1="442.5" x2="1111.1" y2="442.5" stroke="#9a9a9a" stroke-width="0.8"/>
<line x1="1108.1" y1="434.0" x2="1111.1" y2="434.0" stroke="#9a9a9a" stroke-width="0.8"/>
<line x1="1108.1" y1="425.5" x2="1111.1" y2="425.5" stroke="#9a9a9a" stroke-width="0.8"/>
<line x1="1105.3" y1="557.5" x2="1105.3" y2="562.0" stroke="#8a8a8a" stroke-width="1"/>
<line x1="1105.3" y1="423.1" x2="1105.3" y2="427.9" stroke="#7a7a7a" stroke-width="0.9"/>
<text x="1103.8" y="418.5" font-size="11.4" text-anchor="middle" >0</text>
<line x1="1062.8" y1="557.5" x2="1062.8" y2="562.0" stroke="#8a8a8a" stroke-width="1"/>
<line x1="1062.8" y1="424.1" x2="1062.8" y2="428.9" stroke="#7a7a7a" stroke-width="0.9"/>
<line x1="1020.3" y1="557.5" x2="1020.3" y2="562.0" stroke="#8a8a8a" stroke-width="1"/>
<line x1="1020.3" y1="428.3" x2="1020.3" y2="433.1" stroke="#7a7a7a" stroke-width="0.9"/>
<text x="1020.3" y="424.4" font-size="11.4" text-anchor="middle" >200</text>
<line x1="977.8" y1="557.5" x2="977.8" y2="562.0" stroke="#8a8a8a" stroke-width="1"/>
<line x1="977.8" y1="431.0" x2="977.8" y2="435.8" stroke="#7a7a7a" stroke-width="0.9"/>
<line x1="935.3" y1="557.5" x2="935.3" y2="562.0" stroke="#8a8a8a" stroke-width="1"/>
<line x1="935.3" y1="433.5" x2="935.3" y2="438.3" stroke="#7a7a7a" stroke-width="0.9"/>
<text x="935.3" y="431.3" font-size="11.4" text-anchor="middle" >400</text>
<line x1="892.8" y1="557.5" x2="892.8" y2="562.0" stroke="#8a8a8a" stroke-width="1"/>
<line x1="892.8" y1="436.1" x2="892.8" y2="440.9" stroke="#7a7a7a" stroke-width="0.9"/>
<line x1="850.3" y1="557.5" x2="850.3" y2="562.0" stroke="#8a8a8a" stroke-width="1"/>
<line x1="850.3" y1="439.4" x2="850.3" y2="444.2" stroke="#7a7a7a" stroke-width="0.9"/>
<text x="850.3" y="438.3" font-size="11.4" text-anchor="middle" >600</text>
<line x1="807.8" y1="557.5" x2="807.8" y2="562.0" stroke="#8a8a8a" stroke-width="1"/>
<line x1="807.8" y1="442.4" x2="807.8" y2="447.2" stroke="#7a7a7a" stroke-width="0.9"/>
<line x1="765.3" y1="557.5" x2="765.3" y2="562.0" stroke="#8a8a8a" stroke-width="1"/>
<line x1="765.3" y1="446.5" x2="765.3" y2="451.3" stroke="#7a7a7a" stroke-width="0.9"/>
<text x="765.3" y="443.5" font-size="11.4" text-anchor="middle" >800</text>
<line x1="722.8" y1="557.5" x2="722.8" y2="562.0" stroke="#8a8a8a" stroke-width="1"/>
<line x1="722.8" y1="449.8" x2="722.8" y2="454.6" stroke="#7a7a7a" stroke-width="0.9"/>
<line x1="680.3" y1="557.5" x2="680.3" y2="562.0" stroke="#8a8a8a" stroke-width="1"/>
<line x1="680.3" y1="452.6" x2="680.3" y2="457.4" stroke="#7a7a7a" stroke-width="0.9"/>
<text x="680.3" y="447.9" font-size="11.4" text-anchor="middle" >1000</text>
<line x1="637.8" y1="557.5" x2="637.8" y2="562.0" stroke="#8a8a8a" stroke-width="1"/>
<line x1="637.8" y1="455.0" x2="637.8" y2="459.8" stroke="#7a7a7a" stroke-width="0.9"/>
<line x1="595.3" y1="557.5" x2="595.3" y2="562.0" stroke="#8a8a8a" stroke-width="1"/>
<line x1="595.3" y1="457.0" x2="595.3" y2="461.8" stroke="#7a7a7a" stroke-width="0.9"/>
<text x="595.3" y="452.9" font-size="11.4" text-anchor="middle" >1200</text>
<line x1="552.8" y1="557.5" x2="552.8" y2="562.0" stroke="#8a8a8a" stroke-width="1"/>
<line x1="552.8" y1="459.0" x2="552.8" y2="463.8" stroke="#7a7a7a" stroke-width="0.9"/>
<line x1="510.3" y1="557.5" x2="510.3" y2="562.0" stroke="#8a8a8a" stroke-width="1"/>
<line x1="510.3" y1="461.3" x2="510.3" y2="466.1" stroke="#7a7a7a" stroke-width="0.9"/>
<text x="510.3" y="456.1" font-size="11.4" text-anchor="middle" >1400</text>
<line x1="467.8" y1="557.5" x2="467.8" y2="562.0" stroke="#8a8a8a" stroke-width="1"/>
<line x1="467.8" y1="462.7" x2="467.8" y2="467.5" stroke="#7a7a7a" stroke-width="0.9"/>
<line x1="425.3" y1="557.5" x2="425.3" y2="562.0" stroke="#8a8a8a" stroke-width="1"/>
<line x1="425.3" y1="464.0" x2="425.3" y2="468.8" stroke="#7a7a7a" stroke-width="0.9"/>
<text x="425.3" y="459.9" font-size="11.4" text-anchor="middle" >1600</text>
<line x1="382.8" y1="557.5" x2="382.8" y2="562.0" stroke="#8a8a8a" stroke-width="1"/>
<line x1="382.8" y1="465.5" x2="382.8" y2="470.3" stroke="#7a7a7a" stroke-width="0.9"/>
<line x1="340.3" y1="557.5" x2="340.3" y2="562.0" stroke="#8a8a8a" stroke-width="1"/>
<line x1="340.3" y1="466.3" x2="340.3" y2="471.1" stroke="#7a7a7a" stroke-width="0.9"/>
<text x="340.3" y="462.4" font-size="11.4" text-anchor="middle" >1800</text>
<line x1="297.8" y1="557.5" x2="297.8" y2="562.0" stroke="#8a8a8a" stroke-width="1"/>
<line x1="297.8" y1="466.3" x2="297.8" y2="471.1" stroke="#7a7a7a" stroke-width="0.9"/>
<line x1="255.3" y1="557.5" x2="255.3" y2="562.0" stroke="#8a8a8a" stroke-width="1"/>
<line x1="255.3" y1="466.3" x2="255.3" y2="471.1" stroke="#7a7a7a" stroke-width="0.9"/>
<text x="255.3" y="462.4" font-size="11.4" text-anchor="middle" >2000</text>
<line x1="212.8" y1="557.5" x2="212.8" y2="562.0" stroke="#8a8a8a" stroke-width="1"/>
<line x1="212.8" y1="466.3" x2="212.8" y2="471.1" stroke="#7a7a7a" stroke-width="0.9"/>
<text x="219.4" y="462.4" font-size="11.3" text-anchor="start" >[m]</text>
<text x="212.3" y="442.5" font-size="19.2" text-anchor="start" >WSW</text>
<text x="1044.7" y="418.5" font-size="19.2" text-anchor="start" >ENE</text>
<text x="876.2" y="479.1" font-size="15.4" text-anchor="start" >inverse model resistivity section</text>
<text x="274.3" y="584.3" font-size="15.45" text-anchor="start" >apparent resistivity pseudosection</text>
<clipPath id="c7"><polygon points="255.5,648.6 298.0,648.6 340.4,647.3 382.8,645.3 425.6,643.6 468.0,642.1 510.3,640.8 552.9,638.6 595.2,636.1 637.6,633.3 680.0,631.1 722.5,628.4 765.4,625.9 807.6,622.6 850.4,618.8 892.7,616.3 934.9,614.2 977.4,611.2 1020.3,609.1 1062.5,606.1 1105.3,603.7 1105.3,621.3 1062.5,623.2 1020.3,625.8 977.4,627.4 934.9,629.9 892.7,631.6 850.4,633.6 807.6,636.9 795.0,637.8 765.4,639.7 722.5,641.7 680.0,643.9 637.6,645.5 595.2,647.8 552.9,649.8 525.0,650.8 510.3,651.6 468.0,652.9 425.6,654.4 382.8,656.0 340.4,658.0 298.0,659.3 255.5,659.3"/></clipPath>
<g clip-path="url(#c7)">
<rect x="253.7" y="601.2" width="17.8" height="61.1" fill="#008000"/>
<rect x="271.2" y="601.2" width="5.4" height="61.1" fill="#ffff00"/>
<rect x="276.1" y="601.2" width="6.6" height="61.1" fill="#d08000"/>
<rect x="282.4" y="601.2" width="15.8" height="61.1" fill="#ffff00"/>
<rect x="297.8" y="601.2" width="8.6" height="61.1" fill="#ff0000"/>
<rect x="306.0" y="601.2" width="3.1" height="61.1" fill="#ff8000"/>
<rect x="308.8" y="601.2" width="9.4" height="61.1" fill="#ffff00"/>
<rect x="317.7" y="601.2" width="4.9" height="61.1" fill="#50c000"/>
<rect x="322.2" y="601.2" width="12.9" height="61.1" fill="#008000"/>
<rect x="334.7" y="601.2" width="6.6" height="61.1" fill="#50c000"/>
<rect x="340.9" y="601.2" width="32.8" height="61.1" fill="#008000"/>
<rect x="373.3" y="601.2" width="21.6" height="61.1" fill="#50c000"/>
<rect x="394.5" y="601.2" width="20.3" height="61.1" fill="#008000"/>
<rect x="414.4" y="601.2" width="16.6" height="61.1" fill="#ffff00"/>
<rect x="430.6" y="601.2" width="10.4" height="61.1" fill="#ff8000"/>
<rect x="440.6" y="601.2" width="68.9" height="61.1" fill="#ff0000"/>
<rect x="509.1" y="601.2" width="12.9" height="61.1" fill="#ff8000"/>
<rect x="521.5" y="601.2" width="5.4" height="61.1" fill="#ffff00"/>
<rect x="268.0" y="601.2" width="1.2" height="61.1" fill="#00ff00"/>
<rect x="288.5" y="601.2" width="1.0" height="61.1" fill="#ff8000"/>
<rect x="290.9" y="601.2" width="1.3" height="61.1" fill="#ff8000"/>
<rect x="293.5" y="601.2" width="1.2" height="61.1" fill="#ff8000"/>
<rect x="295.5" y="601.2" width="1.2" height="61.1" fill="#ff8000"/>
<rect x="301.3" y="601.2" width="1.3" height="61.1" fill="#ff8000"/>
<rect x="304.7" y="601.2" width="1.1" height="61.1" fill="#ff8000"/>
<rect x="343.4" y="601.2" width="4.1" height="61.1" fill="#00ff00"/>
<rect x="375.6" y="601.2" width="1.6" height="61.1" fill="#ffff00"/>
<rect x="378.7" y="601.2" width="1.5" height="61.1" fill="#ffff00"/>
<rect x="381.3" y="601.2" width="1.5" height="61.1" fill="#ffff00"/>
<rect x="383.2" y="601.2" width="1.6" height="61.1" fill="#ffff00"/>
<rect x="386.2" y="601.2" width="1.3" height="61.1" fill="#ffff00"/>
<rect x="388.7" y="601.2" width="1.5" height="61.1" fill="#ffff00"/>
<rect x="391.1" y="601.2" width="1.7" height="61.1" fill="#ffff00"/>
<rect x="393.2" y="601.2" width="1.6" height="61.1" fill="#ffff00"/>
<rect x="395.9" y="601.2" width="0.8" height="61.1" fill="#50c000"/>
<rect x="402.5" y="601.2" width="1.1" height="61.1" fill="#50c000"/>
<rect x="404.8" y="601.2" width="1.1" height="61.1" fill="#50c000"/>
<rect x="408.2" y="601.2" width="1.1" height="61.1" fill="#50c000"/>
<rect x="411.8" y="601.2" width="1.0" height="61.1" fill="#50c000"/>
<rect x="417.5" y="601.2" width="1.2" height="61.1" fill="#ff8000"/>
<rect x="424.3" y="601.2" width="1.0" height="61.1" fill="#ff8000"/>
<rect x="426.8" y="601.2" width="1.0" height="61.1" fill="#ff8000"/>
<rect x="429.4" y="601.2" width="1.3" height="61.1" fill="#ff8000"/>
<rect x="451.7" y="601.2" width="1.4" height="61.1" fill="#a00048"/>
<rect x="453.9" y="601.2" width="1.3" height="61.1" fill="#a00048"/>
<rect x="459.0" y="601.2" width="1.4" height="61.1" fill="#a00048"/>
<rect x="461.6" y="601.2" width="1.2" height="61.1" fill="#a00048"/>
<rect x="464.9" y="601.2" width="1.4" height="61.1" fill="#a00048"/>
<rect x="468.0" y="601.2" width="1.3" height="61.1" fill="#a00048"/>
<rect x="475.7" y="601.2" width="1.3" height="61.1" fill="#ff8000"/>
<rect x="478.3" y="601.2" width="1.0" height="61.1" fill="#ff8000"/>
<rect x="483.3" y="601.2" width="1.0" height="61.1" fill="#ff8000"/>
<rect x="485.8" y="601.2" width="1.1" height="61.1" fill="#ff8000"/>
<rect x="488.7" y="601.2" width="1.2" height="61.1" fill="#ff8000"/>
<rect x="491.4" y="601.2" width="1.3" height="61.1" fill="#ff8000"/>
<rect x="493.6" y="601.2" width="1.4" height="61.1" fill="#ff8000"/>
<rect x="500.7" y="601.2" width="0.9" height="61.1" fill="#ff8000"/>
<rect x="502.9" y="601.2" width="1.2" height="61.1" fill="#ff8000"/>
<rect x="512.5" y="601.2" width="10.4" height="61.1" fill="#ff8000"/>
<rect x="522.5" y="601.2" width="44.0" height="61.1" fill="#ffff00"/>
<rect x="566.1" y="601.2" width="10.4" height="61.1" fill="#008000"/>
<rect x="576.0" y="601.2" width="5.4" height="61.1" fill="#50c000"/>
<rect x="581.0" y="601.2" width="22.8" height="61.1" fill="#008000"/>
<rect x="603.4" y="601.2" width="34.0" height="61.1" fill="#50c000"/>
<rect x="637.1" y="601.2" width="17.8" height="61.1" fill="#008000"/>
<rect x="654.5" y="601.2" width="24.1" height="61.1" fill="#ffff00"/>
<rect x="678.2" y="601.2" width="9.1" height="61.1" fill="#008000"/>
<rect x="686.9" y="601.2" width="5.4" height="61.1" fill="#00c080"/>
<rect x="691.9" y="601.2" width="7.9" height="61.1" fill="#00ffff"/>
<rect x="699.4" y="601.2" width="62.7" height="61.1" fill="#0080ff"/>
<rect x="761.6" y="601.2" width="35.3" height="61.1" fill="#0080ff"/>
<rect x="526.6" y="601.2" width="1.2" height="61.1" fill="#ff8000"/>
<rect x="529.8" y="601.2" width="1.5" height="61.1" fill="#ff8000"/>
<rect x="532.7" y="601.2" width="1.5" height="61.1" fill="#ff8000"/>
<rect x="538.7" y="601.2" width="1.5" height="61.1" fill="#ff8000"/>
<rect x="541.2" y="601.2" width="1.4" height="61.1" fill="#ff8000"/>
<rect x="545.5" y="601.2" width="1.1" height="61.1" fill="#ff8000"/>
<rect x="550.6" y="601.2" width="1.4" height="61.1" fill="#ff8000"/>
<rect x="556.9" y="601.2" width="1.4" height="61.1" fill="#ff8000"/>
<rect x="559.8" y="601.2" width="1.3" height="61.1" fill="#ff8000"/>
<rect x="562.2" y="601.2" width="1.1" height="61.1" fill="#ff8000"/>
<rect x="607.9" y="601.2" width="1.7" height="61.1" fill="#ffff00"/>
<rect x="610.2" y="601.2" width="1.5" height="61.1" fill="#ffff00"/>
<rect x="612.8" y="601.2" width="1.2" height="61.1" fill="#ffff00"/>
<rect x="615.7" y="601.2" width="1.4" height="61.1" fill="#ffff00"/>
<rect x="618.9" y="601.2" width="1.4" height="61.1" fill="#ffff00"/>
<rect x="621.5" y="601.2" width="1.3" height="61.1" fill="#ffff00"/>
<rect x="624.0" y="601.2" width="1.5" height="61.1" fill="#ffff00"/>
<rect x="627.1" y="601.2" width="1.6" height="61.1" fill="#ffff00"/>
<rect x="629.6" y="601.2" width="1.3" height="61.1" fill="#ffff00"/>
<rect x="632.2" y="601.2" width="1.5" height="61.1" fill="#ffff00"/>
<rect x="635.2" y="601.2" width="1.4" height="61.1" fill="#ffff00"/>
<rect x="638.6" y="601.2" width="1.4" height="61.1" fill="#50c000"/>
<rect x="640.5" y="601.2" width="1.4" height="61.1" fill="#50c000"/>
<rect x="647.6" y="601.2" width="1.3" height="61.1" fill="#50c000"/>
<rect x="650.4" y="601.2" width="1.5" height="61.1" fill="#50c000"/>
<rect x="653.2" y="601.2" width="1.3" height="61.1" fill="#50c000"/>
<rect x="656.1" y="601.2" width="1.1" height="61.1" fill="#50c000"/>
<rect x="658.9" y="601.2" width="1.4" height="61.1" fill="#50c000"/>
<rect x="662.8" y="601.2" width="1.5" height="61.1" fill="#50c000"/>
<rect x="665.6" y="601.2" width="1.4" height="61.1" fill="#50c000"/>
<rect x="668.7" y="601.2" width="1.1" height="61.1" fill="#50c000"/>
<rect x="671.0" y="601.2" width="1.2" height="61.1" fill="#50c000"/>
<rect x="673.5" y="601.2" width="1.5" height="61.1" fill="#50c000"/>
<rect x="675.4" y="601.2" width="1.0" height="61.1" fill="#50c000"/>
<rect x="702.1" y="601.2" width="1.5" height="61.1" fill="#00ffff"/>
<rect x="708.6" y="601.2" width="1.5" height="61.1" fill="#00ffff"/>
<rect x="713.0" y="601.2" width="1.2" height="61.1" fill="#00ffff"/>
<rect x="715.5" y="601.2" width="1.1" height="61.1" fill="#00ffff"/>
<rect x="720.6" y="601.2" width="1.1" height="61.1" fill="#00ffff"/>
<rect x="731.5" y="601.2" width="1.1" height="61.1" fill="#00ffff"/>
<rect x="737.9" y="601.2" width="1.4" height="61.1" fill="#00ffff"/>
<rect x="766.0" y="601.2" width="1.2" height="61.1" fill="#0000ff"/>
<rect x="769.0" y="601.2" width="1.5" height="61.1" fill="#0000ff"/>
<rect x="773.4" y="601.2" width="1.4" height="61.1" fill="#0000ff"/>
<rect x="775.2" y="601.2" width="1.4" height="61.1" fill="#0000ff"/>
<rect x="777.1" y="601.2" width="1.2" height="61.1" fill="#0000ff"/>
<rect x="778.9" y="601.2" width="1.3" height="61.1" fill="#0000ff"/>
<rect x="781.2" y="601.2" width="1.1" height="61.1" fill="#0000ff"/>
<rect x="784.0" y="601.2" width="1.3" height="61.1" fill="#0000ff"/>
<rect x="786.6" y="601.2" width="1.2" height="61.1" fill="#0000ff"/>
<rect x="789.4" y="601.2" width="1.4" height="61.1" fill="#0000ff"/>
<rect x="791.9" y="601.2" width="1.0" height="61.1" fill="#0000ff"/>
<rect x="782.0" y="601.2" width="26.0" height="61.1" fill="#0080ff"/>
<rect x="807.6" y="601.2" width="27.5" height="61.1" fill="#0080ff"/>
<rect x="834.8" y="601.2" width="92.4" height="61.1" fill="#0000dc"/>
<rect x="926.8" y="601.2" width="18.5" height="61.1" fill="#0080ff"/>
<rect x="944.9" y="601.2" width="81.8" height="61.1" fill="#0000dc"/>
<rect x="1026.3" y="601.2" width="84.8" height="61.1" fill="#0000b4"/>
<rect x="791.1" y="601.2" width="1.3" height="61.1" fill="#0000dc"/>
<rect x="793.4" y="601.2" width="1.5" height="61.1" fill="#0000dc"/>
<rect x="795.7" y="601.2" width="1.3" height="61.1" fill="#0000dc"/>
<rect x="798.5" y="601.2" width="1.4" height="61.1" fill="#0000dc"/>
<rect x="800.8" y="601.2" width="1.5" height="61.1" fill="#0000dc"/>
<rect x="804.6" y="601.2" width="1.4" height="61.1" fill="#0000dc"/>
<rect x="830.7" y="601.2" width="1.4" height="61.1" fill="#0000dc"/>
<rect x="833.2" y="601.2" width="1.4" height="61.1" fill="#0000dc"/>
<rect x="836.4" y="601.2" width="1.1" height="61.1" fill="#0000b4"/>
<rect x="838.2" y="601.2" width="1.3" height="61.1" fill="#0000b4"/>
<rect x="840.2" y="601.2" width="1.4" height="61.1" fill="#0000b4"/>
<rect x="842.2" y="601.2" width="1.2" height="61.1" fill="#0000b4"/>
<rect x="846.6" y="601.2" width="1.3" height="61.1" fill="#0000b4"/>
<rect x="851.8" y="601.2" width="1.0" height="61.1" fill="#0000b4"/>
<rect x="854.3" y="601.2" width="1.3" height="61.1" fill="#0000b4"/>
<rect x="856.7" y="601.2" width="1.2" height="61.1" fill="#0000b4"/>
<rect x="860.6" y="601.2" width="1.1" height="61.1" fill="#0000b4"/>
<rect x="863.1" y="601.2" width="1.2" height="61.1" fill="#0000b4"/>
<rect x="868.1" y="601.2" width="1.0" height="61.1" fill="#0000b4"/>
<rect x="870.7" y="601.2" width="1.0" height="61.1" fill="#0000b4"/>
<rect x="873.2" y="601.2" width="1.2" height="61.1" fill="#0000b4"/>
<rect x="878.1" y="601.2" width="1.1" height="61.1" fill="#0000b4"/>
<rect x="880.6" y="601.2" width="1.3" height="61.1" fill="#0000b4"/>
<rect x="882.9" y="601.2" width="1.3" height="61.1" fill="#0000b4"/>
<rect x="885.7" y="601.2" width="1.0" height="61.1" fill="#0000b4"/>
<rect x="891.1" y="601.2" width="1.3" height="61.1" fill="#0000b4"/>
<rect x="893.5" y="601.2" width="1.4" height="61.1" fill="#0000b4"/>
<rect x="895.3" y="601.2" width="1.1" height="61.1" fill="#0000b4"/>
<rect x="897.1" y="601.2" width="1.0" height="61.1" fill="#0000b4"/>
<rect x="899.6" y="601.2" width="1.4" height="61.1" fill="#0000b4"/>
<rect x="902.2" y="601.2" width="1.1" height="61.1" fill="#0000b4"/>
<rect x="904.2" y="601.2" width="1.4" height="61.1" fill="#0000b4"/>
<rect x="908.2" y="601.2" width="1.4" height="61.1" fill="#0000b4"/>
<rect x="911.2" y="601.2" width="0.9" height="61.1" fill="#0000b4"/>
<rect x="914.0" y="601.2" width="1.2" height="61.1" fill="#0000b4"/>
<rect x="919.0" y="601.2" width="1.4" height="61.1" fill="#0000b4"/>
<rect x="921.6" y="601.2" width="1.2" height="61.1" fill="#0000b4"/>
<rect x="957.0" y="601.2" width="1.0" height="61.1" fill="#0000b4"/>
<rect x="960.0" y="601.2" width="1.3" height="61.1" fill="#0000b4"/>
<rect x="961.9" y="601.2" width="0.9" height="61.1" fill="#0000b4"/>
<rect x="964.9" y="601.2" width="1.2" height="61.1" fill="#0000b4"/>
<rect x="967.2" y="601.2" width="1.3" height="61.1" fill="#0000b4"/>
<rect x="969.6" y="601.2" width="1.0" height="61.1" fill="#0000b4"/>
<rect x="974.3" y="601.2" width="1.0" height="61.1" fill="#0000b4"/>
<rect x="977.2" y="601.2" width="1.1" height="61.1" fill="#0000b4"/>
<rect x="979.1" y="601.2" width="1.3" height="61.1" fill="#0000b4"/>
<rect x="983.7" y="601.2" width="1.4" height="61.1" fill="#0000b4"/>
<rect x="985.5" y="601.2" width="0.9" height="61.1" fill="#0000b4"/>
<rect x="988.5" y="601.2" width="1.0" height="61.1" fill="#0000b4"/>
<rect x="990.9" y="601.2" width="1.0" height="61.1" fill="#0000b4"/>
<rect x="992.8" y="601.2" width="1.4" height="61.1" fill="#0000b4"/>
<rect x="995.9" y="601.2" width="0.9" height="61.1" fill="#0000b4"/>
<rect x="998.0" y="601.2" width="0.9" height="61.1" fill="#0000b4"/>
<rect x="1000.8" y="601.2" width="1.4" height="61.1" fill="#0000b4"/>
<rect x="1002.5" y="601.2" width="1.1" height="61.1" fill="#0000b4"/>
<rect x="1007.2" y="601.2" width="1.0" height="61.1" fill="#0000b4"/>
<rect x="1009.5" y="601.2" width="1.0" height="61.1" fill="#0000b4"/>
<rect x="1014.0" y="601.2" width="1.3" height="61.1" fill="#0000b4"/>
<rect x="1017.8" y="601.2" width="1.1" height="61.1" fill="#0000b4"/>
<rect x="1022.4" y="601.2" width="1.3" height="61.1" fill="#0000b4"/>
<rect x="1028.6" y="601.2" width="1.3" height="61.1" fill="#000082"/>
<rect x="1031.0" y="601.2" width="1.1" height="61.1" fill="#000082"/>
<rect x="1034.8" y="601.2" width="1.1" height="61.1" fill="#000082"/>
<rect x="1037.1" y="601.2" width="1.1" height="61.1" fill="#000082"/>
<rect x="1041.0" y="601.2" width="1.0" height="61.1" fill="#000082"/>
<rect x="1044.9" y="601.2" width="1.0" height="61.1" fill="#000082"/>
<rect x="1047.8" y="601.2" width="0.9" height="61.1" fill="#000082"/>
<rect x="1051.0" y="601.2" width="1.2" height="61.1" fill="#000082"/>
<rect x="1053.5" y="601.2" width="1.3" height="61.1" fill="#000082"/>
<rect x="1057.4" y="601.2" width="1.3" height="61.1" fill="#000082"/>
<rect x="1060.4" y="601.2" width="0.9" height="61.1" fill="#000082"/>
<rect x="1064.3" y="601.2" width="1.1" height="61.1" fill="#000082"/>
<rect x="1067.5" y="601.2" width="1.2" height="61.1" fill="#000082"/>
<rect x="1069.8" y="601.2" width="1.0" height="61.1" fill="#000082"/>
<rect x="1075.1" y="601.2" width="0.9" height="61.1" fill="#000082"/>
<rect x="1077.5" y="601.2" width="1.0" height="61.1" fill="#000082"/>
<rect x="1079.8" y="601.2" width="1.2" height="61.1" fill="#000082"/>
<rect x="1083.1" y="601.2" width="1.0" height="61.1" fill="#000082"/>
<rect x="1087.0" y="601.2" width="0.9" height="61.1" fill="#000082"/>
<rect x="1089.4" y="601.2" width="1.2" height="61.1" fill="#000082"/>
<rect x="1098.6" y="601.2" width="1.0" height="61.1" fill="#000082"/>
<rect x="1102.0" y="601.2" width="1.0" height="61.1" fill="#000082"/>
<rect x="1105.8" y="601.2" width="1.1" height="61.1" fill="#000082"/>
</g>
<polyline fill="none" stroke="#2a2a2a" stroke-width="0.9" points="255.5,648.1 298.0,648.1 340.4,646.8 382.8,644.8 425.6,643.1 468.0,641.6 510.3,640.3 552.9,638.1 595.2,635.6 637.6,632.8 680.0,630.6 722.5,627.9 765.4,625.4 807.6,622.1 850.4,618.3 892.7,615.8 934.9,613.7 977.4,610.7 1020.3,608.6 1062.5,605.6 1105.3,603.2"/>
<polyline fill="none" stroke="#333" stroke-width="1.5" stroke-dasharray="0.9,2.5" points="255.5,647.9 298.0,647.9 340.4,646.6 382.8,644.6 425.6,642.9 468.0,641.4 510.3,640.1 552.9,637.9 595.2,635.4 637.6,632.6 680.0,630.4 722.5,627.7 765.4,625.2 807.6,621.9 850.4,618.1 892.7,615.6 934.9,613.5 977.4,610.5 1020.3,608.4 1062.5,605.4 1105.3,603.0"/>
<clipPath id="c8"><rect x="256" y="672" width="849" height="62"/></clipPath>
<g clip-path="url(#c8)">
<rect x="254.5" y="671.3" width="851.8" height="63.9" fill="#50c000"/>
<polygon fill="#008000" points="253.7,669.7 269.9,669.7 268.7,694.7 266.9,708.4 259.9,719.6 255.5,717.6 253.7,717.6" />
<polygon fill="#ffff00" points="271.9,671.3 276.4,671.3 271.4,735.2 268.4,735.2" />
<polygon fill="#d08000" points="274.9,669.7 306.8,669.7 311.8,735.8 270.9,735.8" />
<polygon fill="#ff8000" points="277.1,705.4 281.0,719.5 283.3,735.1 271.6,735.1 274.0,719.5" />
<polygon fill="#ffff00" points="278.4,669.7 296.3,669.7 293.8,689.7 290.3,702.1 286.1,705.1 282.4,694.7" />
<polygon fill="#ff8000" points="295.8,669.7 306.3,669.7 308.8,704.6 311.3,735.8 293.8,735.8 296.1,704.6" />
<polygon fill="#ff0000" points="301.8,684.2 304.8,704.6 306.3,735.8 294.8,735.8 297.8,704.6" />
<polygon fill="#ffff00" points="307.3,671.3 312.8,671.3 318.7,735.2 311.8,735.2" />
<polygon fill="#008000" points="318.2,669.7 336.2,669.7 333.4,694.7 329.7,717.1 327.2,722.6 324.2,712.1 321.0,689.7" />
<polygon fill="#008000" points="338.2,669.7 373.6,669.7 371.1,694.7 369.1,735.8 340.7,735.8 339.7,702.1" />
<polygon fill="#00ff00" points="343.4,669.7 349.6,669.7 353.4,679.7 358.6,682.7 362.6,697.1 359.6,704.6 355.9,715.1 347.1,707.6 344.2,690.9" />
<polygon fill="#ffff00" points="373.1,735.8 374.5,714.6 379.5,699.1 383.5,710.8 388.2,704.6 392.0,719.6 393.5,735.8" />
<polygon fill="#008000" points="393.0,669.7 412.4,669.7 409.4,684.7 404.4,697.1 399.5,704.6 395.5,699.6 394.0,684.7" />
<polygon fill="#ffff00" points="419.4,669.7 430.8,669.7 425.9,694.7 419.4,714.6 415.9,735.8 410.4,735.8 414.4,704.6 417.4,684.7" />
<polygon fill="#d08000" points="430.4,669.7 434.8,669.7 432.3,694.7 429.9,735.8 415.4,735.8 419.4,714.6 425.9,694.7" />
<polygon fill="#ff8000" points="434.3,669.7 441.1,669.7 437.3,699.6 434.8,735.8 429.4,735.8 431.8,699.6" />
<polygon fill="#ff0000" points="440.6,669.7 507.1,669.7 514.1,699.6 522.0,735.8 434.3,735.8 436.8,699.6" />
<polygon fill="#f2000a" points="444.3,735.8 445.5,694.7 451.8,682.2 469.2,680.9 489.1,679.7 504.1,684.7 510.3,704.6 514.1,735.8" />
<polygon fill="#a00048" points="439.3,735.8 441.8,712.1 446.3,697.1 451.8,693.4 456.8,697.1 463.0,712.1 468.0,722.6 474.2,712.1 480.4,706.6 487.9,705.9 496.6,712.1 505.3,724.5 509.6,735.8" />
<polygon fill="#74006a" points="444.3,735.8 448.0,724.5 451.8,720.8 456.3,724.5 459.3,735.8" />
<polygon fill="#ff8000" points="505.6,669.6 516.4,669.6 518.0,700.0 522.9,711.2 534.1,712.9 540.5,716.9 544.5,714.5 553.3,725.7 562.1,728.9 565.1,736.1 520.0,736.1 512.9,700.0" />
<polygon fill="#d08000" points="515.6,669.6 521.6,669.6 525.3,685.6 531.7,684.8 540.5,691.2 544.5,686.4 556.5,700.8 559.7,700.0 563.7,712.9 565.1,736.1 562.1,728.9 553.3,725.7 544.5,714.5 540.5,716.9 534.1,712.9 522.9,711.2 518.0,700.0" />
<polygon fill="#ffff00" points="520.9,669.6 562.6,669.6 566.4,736.1 564.8,736.1 563.7,712.9 559.7,700.0 556.5,700.8 544.5,686.4 540.5,691.2 531.7,684.8 525.3,685.6" />
<polygon fill="#008000" points="566.9,669.6 576.0,669.6 572.8,684.0 570.1,692.4 568.0,684.0" />
<polygon fill="#008000" points="580.5,669.6 606.5,669.6 603.2,692.0 598.4,708.0 591.7,715.6 586.9,704.8 582.9,684.0" />
<polygon fill="#ffff00" points="565.8,736.1 570.1,724.1 575.7,708.0 578.9,698.4 582.1,714.5 585.6,736.1" />
<polygon fill="#d08000" points="574.9,736.1 577.0,728.9 578.9,736.1" />
<polygon fill="#ffff00" points="599.7,735.7 602.2,709.6 609.7,707.1 617.1,705.8 624.6,700.8 634.6,707.1 644.5,709.6 654.5,702.1 660.7,689.6 667.0,682.2 672.0,689.6 675.7,709.6 677.4,735.7" />
<polygon fill="#d08000" points="656.5,735.7 660.7,722.0 667.0,710.8 670.7,719.5 674.9,735.7" />
<polygon fill="#008000" points="633.1,669.7 656.0,669.7 650.8,677.7 644.5,681.7 638.3,679.2" />
<polygon fill="#008000" points="676.4,671.3 681.2,671.3 681.4,735.2 676.9,735.2" />
<polygon fill="#00ff00" points="680.7,671.3 687.4,671.3 687.9,735.2 681.2,735.2" />
<polygon fill="#00c080" points="686.4,671.3 689.9,671.3 689.4,735.2 687.4,735.2" />
<polygon fill="#00ffff" points="688.9,669.7 796.5,669.7 796.5,735.7 688.4,735.7" />
<polygon fill="#0080ff" points="695.9,735.7 694.9,694.6 699.4,687.1 709.3,684.2 715.5,684.7 721.8,693.4 729.3,685.9 739.2,682.7 754.2,683.4 764.1,681.7 776.6,675.2 782.8,680.9 789.0,675.2 796.5,674.7 796.5,735.7" />
<polygon fill="#0000ff" points="739.2,735.7 744.2,724.5 749.7,717.0 754.2,724.5 757.9,714.5 763.6,702.1 767.9,709.6 771.6,699.6 777.1,693.4 781.6,699.6 785.3,708.3 789.0,697.1 796.5,694.6 796.5,735.7" />
<polygon fill="#0080ff" points="783.0,669.5 1110.7,669.5 1110.7,737.4 783.0,737.4" />
<polygon fill="#00ffff" points="783.0,669.5 798.6,669.5 795.6,675.6 783.0,679.2" />
<polygon fill="#00ffff" points="810.6,671.0 815.2,671.0 812.7,675.6" />
<polygon fill="#0000ff" points="783.0,696.7 791.0,693.7 807.6,693.1 809.1,737.4 783.0,737.4" />
<polygon fill="#0000ff" points="824.2,737.4 822.7,696.7 830.2,684.6 845.3,675.6 875.5,674.1 911.7,673.1 922.2,678.6 932.8,690.6 937.3,696.7 941.8,690.6 949.4,674.1 981.0,672.5 1008.2,672.5 1014.2,676.2 1026.3,674.1 1110.7,672.5 1110.7,737.4" />
<polygon fill="#0080ff" points="928.6,737.4 929.8,714.8 934.3,699.7 938.8,699.7 940.3,714.8 942.4,737.4" />
<polygon fill="#0000dc" points="834.8,737.4 834.8,692.1 843.8,682.2 875.5,679.2 901.1,677.4 919.2,683.1 929.2,698.2 930.4,737.4" />
<polygon fill="#0000b4" points="869.4,737.4 870.7,699.7 880.0,691.2 905.6,689.4 919.2,699.7 922.2,737.4" />
<polygon fill="#0000dc" points="944.2,737.4 945.5,696.7 955.4,683.1 981.0,679.2 1015.7,679.2 1027.8,684.6 1032.3,699.7 1032.9,737.4" />
<polygon fill="#0000b4" points="961.4,737.4 962.3,701.2 971.4,692.1 996.1,690.0 1015.7,693.7 1022.7,707.2 1022.7,737.4" />
<polygon fill="#000082" points="990.1,737.4 993.1,723.8 997.6,720.8 1000.6,729.9 1008.2,726.8 1011.2,737.4" />
<polygon fill="#0000dc" points="1041.4,737.4 1042.9,699.7 1050.4,687.6 1062.5,680.1 1086.6,675.6 1110.7,675.6 1110.7,737.4" />
<polygon fill="#0000b4" points="1051.9,737.4 1052.8,702.7 1059.5,692.1 1080.6,686.1 1110.7,684.6 1110.7,737.4" />
<polygon fill="#000082" points="1080.6,737.4 1082.1,702.7 1089.6,690.6 1110.7,689.1 1110.7,737.4" />
<polygon fill="#0080ff" points="814.0,699.7 816.1,699.7 816.4,705.7 814.6,706.3" />
</g>
<line x1="249.2" y1="672.3" x2="249.2" y2="735.2" stroke="#8a8a8a" stroke-width="1"/>
<line x1="245.2" y1="673.5" x2="249.2" y2="673.5" stroke="#8a8a8a" stroke-width="0.8"/>
<line x1="246.7" y1="678.1" x2="249.2" y2="678.1" stroke="#8a8a8a" stroke-width="0.8"/>
<line x1="245.2" y1="682.6" x2="249.2" y2="682.6" stroke="#8a8a8a" stroke-width="0.8"/>
<line x1="246.7" y1="687.2" x2="249.2" y2="687.2" stroke="#8a8a8a" stroke-width="0.8"/>
<line x1="245.2" y1="691.8" x2="249.2" y2="691.8" stroke="#8a8a8a" stroke-width="0.8"/>
<line x1="246.7" y1="696.3" x2="249.2" y2="696.3" stroke="#8a8a8a" stroke-width="0.8"/>
<line x1="245.2" y1="700.9" x2="249.2" y2="700.9" stroke="#8a8a8a" stroke-width="0.8"/>
<line x1="246.7" y1="705.4" x2="249.2" y2="705.4" stroke="#8a8a8a" stroke-width="0.8"/>
<line x1="245.2" y1="710.0" x2="249.2" y2="710.0" stroke="#8a8a8a" stroke-width="0.8"/>
<line x1="246.7" y1="714.6" x2="249.2" y2="714.6" stroke="#8a8a8a" stroke-width="0.8"/>
<line x1="245.2" y1="719.1" x2="249.2" y2="719.1" stroke="#8a8a8a" stroke-width="0.8"/>
<line x1="246.7" y1="723.7" x2="249.2" y2="723.7" stroke="#8a8a8a" stroke-width="0.8"/>
<line x1="245.2" y1="728.3" x2="249.2" y2="728.3" stroke="#8a8a8a" stroke-width="0.8"/>
<line x1="246.7" y1="732.8" x2="249.2" y2="732.8" stroke="#8a8a8a" stroke-width="0.8"/>
<text x="244.7" y="677.1" font-size="11.3" text-anchor="end" >0</text>
<text x="244.7" y="696.0" font-size="11.3" text-anchor="end" >2</text>
<text x="244.7" y="714.9" font-size="11.3" text-anchor="end" >4</text>
<text x="244.7" y="733.8" font-size="11.3" text-anchor="end" >6</text>
<line x1="249.2" y1="596.0" x2="249.2" y2="662.0" stroke="#8a8a8a" stroke-width="1"/>
<line x1="246.7" y1="661.0" x2="249.2" y2="661.0" stroke="#8a8a8a" stroke-width="0.7"/>
<line x1="246.7" y1="656.8" x2="249.2" y2="656.8" stroke="#8a8a8a" stroke-width="0.7"/>
<line x1="246.7" y1="652.5" x2="249.2" y2="652.5" stroke="#8a8a8a" stroke-width="0.7"/>
<line x1="246.7" y1="648.2" x2="249.2" y2="648.2" stroke="#8a8a8a" stroke-width="0.7"/>
<line x1="246.7" y1="644.0" x2="249.2" y2="644.0" stroke="#8a8a8a" stroke-width="0.7"/>
<line x1="246.7" y1="639.8" x2="249.2" y2="639.8" stroke="#8a8a8a" stroke-width="0.7"/>
<line x1="246.7" y1="635.5" x2="249.2" y2="635.5" stroke="#8a8a8a" stroke-width="0.7"/>
<line x1="246.7" y1="631.2" x2="249.2" y2="631.2" stroke="#8a8a8a" stroke-width="0.7"/>
<line x1="246.7" y1="627.0" x2="249.2" y2="627.0" stroke="#8a8a8a" stroke-width="0.7"/>
<line x1="246.7" y1="622.8" x2="249.2" y2="622.8" stroke="#8a8a8a" stroke-width="0.7"/>
<line x1="246.7" y1="618.5" x2="249.2" y2="618.5" stroke="#8a8a8a" stroke-width="0.7"/>
<line x1="246.7" y1="614.2" x2="249.2" y2="614.2" stroke="#8a8a8a" stroke-width="0.7"/>
<line x1="246.7" y1="610.0" x2="249.2" y2="610.0" stroke="#8a8a8a" stroke-width="0.7"/>
<line x1="246.7" y1="605.8" x2="249.2" y2="605.8" stroke="#8a8a8a" stroke-width="0.7"/>
<line x1="246.7" y1="601.5" x2="249.2" y2="601.5" stroke="#8a8a8a" stroke-width="0.7"/>
<line x1="246.7" y1="597.2" x2="249.2" y2="597.2" stroke="#8a8a8a" stroke-width="0.7"/>
<text x="244.7" y="612.0" font-size="11.3" text-anchor="end" >20</text>
<line x1="245.2" y1="608.0" x2="249.2" y2="608.0" stroke="#8a8a8a" stroke-width="0.9"/>
<text x="244.7" y="632.7" font-size="11.3" text-anchor="end" >10</text>
<line x1="245.2" y1="628.7" x2="249.2" y2="628.7" stroke="#8a8a8a" stroke-width="0.9"/>
<text x="244.7" y="654.3" font-size="11.3" text-anchor="end" >0</text>
<line x1="245.2" y1="650.3" x2="249.2" y2="650.3" stroke="#8a8a8a" stroke-width="0.9"/>
<text transform="translate(224.6,617.0) rotate(-90)" font-size="11" text-anchor="middle">[m a.s.l]</text>
<text transform="translate(224.6,677.3) rotate(-90)" font-size="11" text-anchor="middle">[m]</text>
<line x1="1108.1" y1="672.3" x2="1108.1" y2="734.2" stroke="#9a9a9a" stroke-width="0.9"/>
<line x1="1108.1" y1="598.2" x2="1108.1" y2="662.0" stroke="#9a9a9a" stroke-width="0.9"/>
<line x1="1108.1" y1="673.5" x2="1111.1" y2="673.5" stroke="#9a9a9a" stroke-width="0.8"/>
<line x1="1108.1" y1="683.0" x2="1111.1" y2="683.0" stroke="#9a9a9a" stroke-width="0.8"/>
<line x1="1108.1" y1="692.4" x2="1111.1" y2="692.4" stroke="#9a9a9a" stroke-width="0.8"/>
<line x1="1108.1" y1="701.9" x2="1111.1" y2="701.9" stroke="#9a9a9a" stroke-width="0.8"/>
<line x1="1108.1" y1="711.3" x2="1111.1" y2="711.3" stroke="#9a9a9a" stroke-width="0.8"/>
<line x1="1108.1" y1="720.8" x2="1111.1" y2="720.8" stroke="#9a9a9a" stroke-width="0.8"/>
<line x1="1108.1" y1="730.2" x2="1111.1" y2="730.2" stroke="#9a9a9a" stroke-width="0.8"/>
<line x1="1108.1" y1="662.0" x2="1111.1" y2="662.0" stroke="#9a9a9a" stroke-width="0.8"/>
<line x1="1108.1" y1="653.5" x2="1111.1" y2="653.5" stroke="#9a9a9a" stroke-width="0.8"/>
<line x1="1108.1" y1="645.0" x2="1111.1" y2="645.0" stroke="#9a9a9a" stroke-width="0.8"/>
<line x1="1108.1" y1="636.5" x2="1111.1" y2="636.5" stroke="#9a9a9a" stroke-width="0.8"/>
<line x1="1108.1" y1="628.0" x2="1111.1" y2="628.0" stroke="#9a9a9a" stroke-width="0.8"/>
<line x1="1108.1" y1="619.5" x2="1111.1" y2="619.5" stroke="#9a9a9a" stroke-width="0.8"/>
<line x1="1108.1" y1="611.0" x2="1111.1" y2="611.0" stroke="#9a9a9a" stroke-width="0.8"/>
<line x1="1108.1" y1="602.5" x2="1111.1" y2="602.5" stroke="#9a9a9a" stroke-width="0.8"/>
<line x1="1105.3" y1="734.7" x2="1105.3" y2="739.2" stroke="#8a8a8a" stroke-width="1"/>
<line x1="1105.3" y1="598.4" x2="1105.3" y2="603.2" stroke="#7a7a7a" stroke-width="0.9"/>
<text x="1103.8" y="595.7" font-size="11.4" text-anchor="middle" >0</text>
<line x1="1062.8" y1="734.7" x2="1062.8" y2="739.2" stroke="#8a8a8a" stroke-width="1"/>
<line x1="1062.8" y1="600.8" x2="1062.8" y2="605.6" stroke="#7a7a7a" stroke-width="0.9"/>
<line x1="1020.3" y1="734.7" x2="1020.3" y2="739.2" stroke="#8a8a8a" stroke-width="1"/>
<line x1="1020.3" y1="603.8" x2="1020.3" y2="608.6" stroke="#7a7a7a" stroke-width="0.9"/>
<text x="1020.3" y="600.8" font-size="11.4" text-anchor="middle" >200</text>
<line x1="977.8" y1="734.7" x2="977.8" y2="739.2" stroke="#8a8a8a" stroke-width="1"/>
<line x1="977.8" y1="605.9" x2="977.8" y2="610.7" stroke="#7a7a7a" stroke-width="0.9"/>
<line x1="935.3" y1="734.7" x2="935.3" y2="739.2" stroke="#8a8a8a" stroke-width="1"/>
<line x1="935.3" y1="608.9" x2="935.3" y2="613.7" stroke="#7a7a7a" stroke-width="0.9"/>
<text x="935.3" y="607.7" font-size="11.4" text-anchor="middle" >400</text>
<line x1="892.8" y1="734.7" x2="892.8" y2="739.2" stroke="#8a8a8a" stroke-width="1"/>
<line x1="892.8" y1="611.0" x2="892.8" y2="615.8" stroke="#7a7a7a" stroke-width="0.9"/>
<line x1="850.3" y1="734.7" x2="850.3" y2="739.2" stroke="#8a8a8a" stroke-width="1"/>
<line x1="850.3" y1="613.5" x2="850.3" y2="618.3" stroke="#7a7a7a" stroke-width="0.9"/>
<text x="850.3" y="612.2" font-size="11.4" text-anchor="middle" >600</text>
<line x1="807.8" y1="734.7" x2="807.8" y2="739.2" stroke="#8a8a8a" stroke-width="1"/>
<line x1="807.8" y1="617.3" x2="807.8" y2="622.1" stroke="#7a7a7a" stroke-width="0.9"/>
<line x1="765.3" y1="734.7" x2="765.3" y2="739.2" stroke="#8a8a8a" stroke-width="1"/>
<line x1="765.3" y1="620.6" x2="765.3" y2="625.4" stroke="#7a7a7a" stroke-width="0.9"/>
<text x="765.3" y="618.1" font-size="11.4" text-anchor="middle" >800</text>
<line x1="722.8" y1="734.7" x2="722.8" y2="739.2" stroke="#8a8a8a" stroke-width="1"/>
<line x1="722.8" y1="623.1" x2="722.8" y2="627.9" stroke="#7a7a7a" stroke-width="0.9"/>
<line x1="680.3" y1="734.7" x2="680.3" y2="739.2" stroke="#8a8a8a" stroke-width="1"/>
<line x1="680.3" y1="625.8" x2="680.3" y2="630.6" stroke="#7a7a7a" stroke-width="0.9"/>
<text x="680.3" y="623.6" font-size="11.4" text-anchor="middle" >1000</text>
<line x1="637.8" y1="734.7" x2="637.8" y2="739.2" stroke="#8a8a8a" stroke-width="1"/>
<line x1="637.8" y1="628.0" x2="637.8" y2="632.8" stroke="#7a7a7a" stroke-width="0.9"/>
<line x1="595.3" y1="734.7" x2="595.3" y2="739.2" stroke="#8a8a8a" stroke-width="1"/>
<line x1="595.3" y1="630.8" x2="595.3" y2="635.6" stroke="#7a7a7a" stroke-width="0.9"/>
<text x="595.3" y="628.6" font-size="11.4" text-anchor="middle" >1200</text>
<line x1="552.8" y1="734.7" x2="552.8" y2="739.2" stroke="#8a8a8a" stroke-width="1"/>
<line x1="552.8" y1="633.3" x2="552.8" y2="638.1" stroke="#7a7a7a" stroke-width="0.9"/>
<line x1="510.3" y1="734.7" x2="510.3" y2="739.2" stroke="#8a8a8a" stroke-width="1"/>
<line x1="510.3" y1="635.5" x2="510.3" y2="640.3" stroke="#7a7a7a" stroke-width="0.9"/>
<text x="510.3" y="631.1" font-size="11.4" text-anchor="middle" >1400</text>
<line x1="467.8" y1="734.7" x2="467.8" y2="739.2" stroke="#8a8a8a" stroke-width="1"/>
<line x1="467.8" y1="636.8" x2="467.8" y2="641.6" stroke="#7a7a7a" stroke-width="0.9"/>
<line x1="425.3" y1="734.7" x2="425.3" y2="739.2" stroke="#8a8a8a" stroke-width="1"/>
<line x1="425.3" y1="638.3" x2="425.3" y2="643.1" stroke="#7a7a7a" stroke-width="0.9"/>
<text x="425.3" y="637.9" font-size="11.4" text-anchor="middle" >1600</text>
<line x1="382.8" y1="734.7" x2="382.8" y2="739.2" stroke="#8a8a8a" stroke-width="1"/>
<line x1="382.8" y1="640.0" x2="382.8" y2="644.8" stroke="#7a7a7a" stroke-width="0.9"/>
<line x1="340.3" y1="734.7" x2="340.3" y2="739.2" stroke="#8a8a8a" stroke-width="1"/>
<line x1="340.3" y1="642.0" x2="340.3" y2="646.8" stroke="#7a7a7a" stroke-width="0.9"/>
<text x="340.3" y="641.2" font-size="11.4" text-anchor="middle" >1800</text>
<line x1="297.8" y1="734.7" x2="297.8" y2="739.2" stroke="#8a8a8a" stroke-width="1"/>
<line x1="297.8" y1="643.3" x2="297.8" y2="648.1" stroke="#7a7a7a" stroke-width="0.9"/>
<line x1="255.3" y1="734.7" x2="255.3" y2="739.2" stroke="#8a8a8a" stroke-width="1"/>
<line x1="255.3" y1="643.3" x2="255.3" y2="648.1" stroke="#7a7a7a" stroke-width="0.9"/>
<text x="304.3" y="639.8" font-size="11.3" text-anchor="start" >[m]</text>
<text x="263.7" y="624.4" font-size="19.2" text-anchor="start" >SW</text>
<text x="1057.3" y="593.5" font-size="19.2" text-anchor="start" >NE</text>
<text x="876.4" y="655.4" font-size="15.4" text-anchor="start" >inverse model resistivity section</text>
<text x="274.3" y="759.3" font-size="15.45" text-anchor="start" >apparent resistivity pseudosection</text>
<clipPath id="c9"><polygon points="259.6,834.9 955.0,834.9 959.8,834.0 1020.0,832.0 1074.4,830.2 1105.6,825.2 1105.6,843.9 1074.4,845.7 1020.0,846.4 959.8,846.8 955.0,846.8 259.6,846.8"/></clipPath>
<g clip-path="url(#c9)">
<rect x="255.0" y="821.6" width="7.6" height="28.2" fill="#ffffff"/>
<rect x="262.2" y="821.6" width="848.2" height="28.2" fill="#74006a"/>
<rect x="262.2" y="821.6" width="3.1" height="28.2" fill="#ff8000"/>
<rect x="264.9" y="821.6" width="31.5" height="28.2" fill="#ff0000"/>
<rect x="347.2" y="821.6" width="14.1" height="28.2" fill="#ff0000"/>
<rect x="349.2" y="821.6" width="8.9" height="28.2" fill="#ff8000"/>
<rect x="370.8" y="821.6" width="15.8" height="28.2" fill="#ff0000"/>
<rect x="506.6" y="821.6" width="11.9" height="28.2" fill="#ff0000"/>
<rect x="271.9" y="821.6" width="2.4" height="28.2" fill="#ffff00"/>
<rect x="273.9" y="821.6" width="2.4" height="28.2" fill="#ff8000"/>
<rect x="374.6" y="821.6" width="5.4" height="28.2" fill="#ff8000"/>
<rect x="509.1" y="821.6" width="3.4" height="28.2" fill="#ff8000"/>
<rect x="291.1" y="821.6" width="5.4" height="28.2" fill="#a00048"/>
<rect x="911.3" y="821.6" width="12.9" height="28.2" fill="#ff0000"/>
<rect x="923.7" y="821.6" width="6.6" height="28.2" fill="#ff8000"/>
<rect x="929.9" y="821.6" width="3.1" height="28.2" fill="#ff0000"/>
<rect x="932.7" y="821.6" width="7.6" height="28.2" fill="#74006a"/>
<rect x="939.9" y="821.6" width="3.1" height="28.2" fill="#ff0000"/>
<rect x="942.7" y="821.6" width="11.4" height="28.2" fill="#d08000"/>
<rect x="953.6" y="821.6" width="1.9" height="28.2" fill="#ffff00"/>
<rect x="955.1" y="821.6" width="6.4" height="28.2" fill="#008000"/>
<rect x="961.1" y="821.6" width="17.8" height="28.2" fill="#00ff00"/>
<rect x="978.5" y="821.6" width="19.1" height="28.2" fill="#008000"/>
<rect x="997.2" y="821.6" width="10.4" height="28.2" fill="#00ff00"/>
<rect x="1007.2" y="821.6" width="22.8" height="28.2" fill="#008000"/>
<rect x="1029.6" y="821.6" width="11.6" height="28.2" fill="#ff8000"/>
<rect x="1040.8" y="821.6" width="1.6" height="28.2" fill="#ffff00"/>
<rect x="1042.1" y="821.6" width="3.1" height="28.2" fill="#008000"/>
<rect x="1044.8" y="821.6" width="5.4" height="28.2" fill="#00ff00"/>
<rect x="1049.8" y="821.6" width="23.8" height="28.2" fill="#00c080"/>
<rect x="1073.2" y="821.6" width="10.4" height="28.2" fill="#00ff00"/>
<rect x="1083.2" y="821.6" width="7.9" height="28.2" fill="#008000"/>
<rect x="1090.6" y="821.6" width="5.4" height="28.2" fill="#50c000"/>
<rect x="1095.6" y="821.6" width="5.4" height="28.2" fill="#ffff00"/>
<rect x="1100.6" y="821.6" width="7.9" height="28.2" fill="#ff8000"/>
<polygon fill="#008000" points="1081.7,827.7 1106.6,821.9 1106.6,846.8 1081.7,846.8" />
<polygon fill="#50c000" points="1083.6,846.8 1088.4,835.3 1097.0,828.6 1103.1,825.7 1098.9,834.3 1091.3,839.1 1086.5,846.8" />
<polygon fill="#ffff00" points="1086.5,846.8 1091.3,839.1 1098.9,834.3 1103.9,825.7 1106.6,825.4 1106.6,831.5 1098.9,838.2 1093.2,846.8" />
<polygon fill="#ff8000" points="1093.2,846.8 1098.9,838.2 1106.6,831.1 1106.6,846.8" />
<polygon fill="#ff0000" points="1032.0,845.8 1033.9,842.0 1036.2,841.0 1038.1,845.8" />
<polygon fill="#ffff00" points="1028.9,829.6 1030.8,829.6 1030.1,846.8 1028.2,846.8" />
</g>
<polyline fill="none" stroke="#2a2a2a" stroke-width="0.9" points="259.6,833.3 955.0,833.3 959.8,832.4 1020.0,830.4 1074.4,828.6 1105.6,823.6"/>
<polyline fill="none" stroke="#333" stroke-width="1.5" stroke-dasharray="0.9,2.5" points="259.6,833.1 955.0,833.1 959.8,832.2 1020.0,830.2 1074.4,828.4 1105.6,823.4"/>
<clipPath id="c10"><rect x="262" y="859" width="844" height="62"/></clipPath>
<g clip-path="url(#c10)">
<rect x="261.2" y="858.0" width="845.4" height="63.8" fill="#74006a"/>
<polygon fill="#ff8000" points="261.5,858.0 264.2,858.0 264.2,921.8 261.5,921.8" />
<polygon fill="#ff0000" points="263.0,858.0 274.2,858.0 274.2,921.8 263.0,921.8" />
<polygon fill="#a00048" points="273.7,858.0 280.4,858.0 277.9,921.8 274.2,921.8" />
<polygon fill="#ff0000" points="279.9,857.2 289.9,857.2 287.4,884.7 284.9,922.0 277.4,922.0 279.4,884.7" />
<polygon fill="#ff8000" points="272.4,894.6 274.9,902.1 275.9,922.0 271.9,922.0" />
<polygon fill="#ffff00" points="272.9,904.6 274.4,912.1 273.9,919.5 272.4,914.5" />
<polygon fill="#a00048" points="289.4,858.0 291.9,858.0 287.4,921.8 284.9,921.8" />
<polygon fill="#ff0000" points="294.8,902.1 297.3,909.6 297.3,922.0 294.3,922.0" />
<polygon fill="#ff0000" points="345.9,858.0 359.9,858.0 359.9,921.8 345.9,921.8" />
<polygon fill="#ff8000" points="348.4,857.2 357.6,857.2 356.6,884.7 354.6,922.0 348.7,922.0 347.7,884.7" />
<polygon fill="#ff0000" points="370.8,858.0 384.8,858.0 384.8,921.8 370.8,921.8" />
<polygon fill="#ff8000" points="373.6,877.2 378.3,877.7 377.6,894.6 374.1,892.1" />
<polygon fill="#ff0000" points="506.6,858.0 518.1,858.0 518.1,921.8 506.1,921.8" />
<polygon fill="#ff8000" points="507.8,857.2 512.1,857.2 511.6,879.7 509.1,880.9" />
<polygon fill="#ff0000" points="910.8,858.0 924.0,858.0 924.0,921.8 910.8,921.8" />
<polygon fill="#ff8000" points="923.7,858.0 930.2,858.0 930.2,921.8 923.7,921.8" />
<polygon fill="#ff0000" points="929.9,858.0 933.9,858.0 933.9,921.8 929.9,921.8" />
<polygon fill="#74006a" points="933.7,858.0 940.2,858.0 940.2,921.8 933.7,921.8" />
<polygon fill="#ff0000" points="939.9,858.0 942.7,858.0 942.7,921.8 939.9,921.8" />
<polygon fill="#ff8000" points="941.3,857.3 944.4,857.3 946.9,922.3 941.3,922.3" />
<polygon fill="#d08000" points="942.8,857.3 948.2,857.3 951.3,922.3 945.1,922.3" />
<polygon fill="#ffff00" points="947.8,857.3 954.7,857.3 955.9,922.3 950.9,922.3" />
<polygon fill="#50c000" points="954.1,857.3 956.6,857.3 957.4,922.3 955.5,922.3" />
<polygon fill="#008000" points="956.0,857.3 1045.4,857.3 1045.4,922.3 957.0,922.3" />
<polygon fill="#00ff00" points="966.9,857.9 973.8,857.9 977.5,873.6 978.6,896.5 975.7,922.3 961.2,922.3 959.3,877.4 966.0,872.0" />
<polygon fill="#00ff00" points="1001.0,857.9 1005.2,857.9 1007.1,875.5 1012.9,865.9 1014.8,873.6 1018.6,867.8 1020.7,886.9 1015.1,890.8 1012.9,896.9 1009.0,900.3 1006.4,922.3 997.6,922.3 993.7,885.0 997.6,875.5" />
<polygon fill="#ffff00" points="1030.8,857.3 1042.7,857.3 1041.9,922.3 1028.9,922.3" />
<polygon fill="#d08000" points="1032.4,857.3 1041.0,857.3 1040.6,922.3 1030.5,922.3" />
<polygon fill="#ff8000" points="1034.9,865.9 1038.7,877.4 1039.6,922.3 1031.6,922.3 1032.9,883.1" />
<polygon fill="#008000" points="1042.5,857.3 1044.8,857.3 1044.4,922.3 1041.7,922.3" />
<polygon fill="#00ff00" points="1044.4,857.3 1085.5,857.3 1081.7,922.3 1044.0,922.3" />
<polygon fill="#00c080" points="1062.6,861.3 1067.4,858.3 1073.3,858.3 1074.6,922.3 1048.2,922.3 1047.3,877.4 1051.1,869.7 1055.9,876.6 1059.7,867.8" />
<polygon fill="#008000" points="1084.2,857.3 1099.9,857.3 1093.2,883.1 1086.5,902.2 1083.6,922.3 1080.2,922.3 1082.7,892.7" />
<polygon fill="#50c000" points="1098.9,857.3 1102.4,857.3 1098.9,883.1 1091.7,922.3 1083.2,922.3 1086.5,902.2 1093.2,883.1" />
<polygon fill="#ffff00" points="1101.8,857.3 1105.0,857.3 1102.8,883.1 1098.2,922.3 1091.3,922.3 1098.5,883.1" />
<polygon fill="#d08000" points="1104.7,857.3 1107.5,857.3 1107.5,922.3 1097.8,922.3 1102.8,883.1" />
</g>
<line x1="254.4" y1="859.0" x2="254.4" y2="921.8" stroke="#8a8a8a" stroke-width="1"/>
<line x1="250.4" y1="860.2" x2="254.4" y2="860.2" stroke="#8a8a8a" stroke-width="0.8"/>
<line x1="251.9" y1="864.8" x2="254.4" y2="864.8" stroke="#8a8a8a" stroke-width="0.8"/>
<line x1="250.4" y1="869.3" x2="254.4" y2="869.3" stroke="#8a8a8a" stroke-width="0.8"/>
<line x1="251.9" y1="873.9" x2="254.4" y2="873.9" stroke="#8a8a8a" stroke-width="0.8"/>
<line x1="250.4" y1="878.4" x2="254.4" y2="878.4" stroke="#8a8a8a" stroke-width="0.8"/>
<line x1="251.9" y1="883.0" x2="254.4" y2="883.0" stroke="#8a8a8a" stroke-width="0.8"/>
<line x1="250.4" y1="887.5" x2="254.4" y2="887.5" stroke="#8a8a8a" stroke-width="0.8"/>
<line x1="251.9" y1="892.1" x2="254.4" y2="892.1" stroke="#8a8a8a" stroke-width="0.8"/>
<line x1="250.4" y1="896.6" x2="254.4" y2="896.6" stroke="#8a8a8a" stroke-width="0.8"/>
<line x1="251.9" y1="901.2" x2="254.4" y2="901.2" stroke="#8a8a8a" stroke-width="0.8"/>
<line x1="250.4" y1="905.8" x2="254.4" y2="905.8" stroke="#8a8a8a" stroke-width="0.8"/>
<line x1="251.9" y1="910.3" x2="254.4" y2="910.3" stroke="#8a8a8a" stroke-width="0.8"/>
<line x1="250.4" y1="914.9" x2="254.4" y2="914.9" stroke="#8a8a8a" stroke-width="0.8"/>
<line x1="251.9" y1="919.4" x2="254.4" y2="919.4" stroke="#8a8a8a" stroke-width="0.8"/>
<text x="249.9" y="864.6" font-size="11.3" text-anchor="end" >0</text>
<text x="249.9" y="883.5" font-size="11.3" text-anchor="end" >2</text>
<text x="249.9" y="902.4" font-size="11.3" text-anchor="end" >4</text>
<text x="249.9" y="921.3" font-size="11.3" text-anchor="end" >6</text>
<line x1="254.4" y1="810.0" x2="254.4" y2="844.5" stroke="#8a8a8a" stroke-width="1"/>
<line x1="251.9" y1="843.5" x2="254.4" y2="843.5" stroke="#8a8a8a" stroke-width="0.7"/>
<line x1="251.9" y1="839.2" x2="254.4" y2="839.2" stroke="#8a8a8a" stroke-width="0.7"/>
<line x1="251.9" y1="835.0" x2="254.4" y2="835.0" stroke="#8a8a8a" stroke-width="0.7"/>
<line x1="251.9" y1="830.8" x2="254.4" y2="830.8" stroke="#8a8a8a" stroke-width="0.7"/>
<line x1="251.9" y1="826.5" x2="254.4" y2="826.5" stroke="#8a8a8a" stroke-width="0.7"/>
<line x1="251.9" y1="822.2" x2="254.4" y2="822.2" stroke="#8a8a8a" stroke-width="0.7"/>
<line x1="251.9" y1="818.0" x2="254.4" y2="818.0" stroke="#8a8a8a" stroke-width="0.7"/>
<line x1="251.9" y1="813.8" x2="254.4" y2="813.8" stroke="#8a8a8a" stroke-width="0.7"/>
<text x="249.9" y="816.7" font-size="11.3" text-anchor="end" >10</text>
<line x1="250.4" y1="812.7" x2="254.4" y2="812.7" stroke="#8a8a8a" stroke-width="0.9"/>
<text x="249.9" y="837.0" font-size="11.3" text-anchor="end" >0</text>
<line x1="250.4" y1="833.0" x2="254.4" y2="833.0" stroke="#8a8a8a" stroke-width="0.9"/>
<text transform="translate(229.5,825.5) rotate(-90)" font-size="11" text-anchor="middle">[m a.s.l]</text>
<text transform="translate(229.5,866.0) rotate(-90)" font-size="11" text-anchor="middle">[m]</text>
<line x1="1108.4" y1="859.0" x2="1108.4" y2="920.8" stroke="#9a9a9a" stroke-width="0.9"/>
<line x1="1108.4" y1="818.6" x2="1108.4" y2="844.5" stroke="#9a9a9a" stroke-width="0.9"/>
<line x1="1108.4" y1="860.2" x2="1111.4" y2="860.2" stroke="#9a9a9a" stroke-width="0.8"/>
<line x1="1108.4" y1="869.7" x2="1111.4" y2="869.7" stroke="#9a9a9a" stroke-width="0.8"/>
<line x1="1108.4" y1="879.1" x2="1111.4" y2="879.1" stroke="#9a9a9a" stroke-width="0.8"/>
<line x1="1108.4" y1="888.6" x2="1111.4" y2="888.6" stroke="#9a9a9a" stroke-width="0.8"/>
<line x1="1108.4" y1="898.0" x2="1111.4" y2="898.0" stroke="#9a9a9a" stroke-width="0.8"/>
<line x1="1108.4" y1="907.5" x2="1111.4" y2="907.5" stroke="#9a9a9a" stroke-width="0.8"/>
<line x1="1108.4" y1="916.9" x2="1111.4" y2="916.9" stroke="#9a9a9a" stroke-width="0.8"/>
<line x1="1108.4" y1="844.5" x2="1111.4" y2="844.5" stroke="#9a9a9a" stroke-width="0.8"/>
<line x1="1108.4" y1="836.0" x2="1111.4" y2="836.0" stroke="#9a9a9a" stroke-width="0.8"/>
<line x1="1108.4" y1="827.5" x2="1111.4" y2="827.5" stroke="#9a9a9a" stroke-width="0.8"/>
<line x1="1108.4" y1="819.0" x2="1111.4" y2="819.0" stroke="#9a9a9a" stroke-width="0.8"/>
<line x1="1105.6" y1="921.3" x2="1105.6" y2="925.8" stroke="#8a8a8a" stroke-width="1"/>
<text x="1104.1" y="814.9" font-size="11.4" text-anchor="middle" >0</text>
<line x1="1063.1" y1="921.3" x2="1063.1" y2="925.8" stroke="#8a8a8a" stroke-width="1"/>
<line x1="1020.6" y1="921.3" x2="1020.6" y2="925.8" stroke="#8a8a8a" stroke-width="1"/>
<text x="1020.6" y="822.9" font-size="11.4" text-anchor="middle" >200</text>
<line x1="978.1" y1="921.3" x2="978.1" y2="925.8" stroke="#8a8a8a" stroke-width="1"/>
<line x1="935.6" y1="921.3" x2="935.6" y2="925.8" stroke="#8a8a8a" stroke-width="1"/>
<text x="935.6" y="825.6" font-size="11.4" text-anchor="middle" >400</text>
<line x1="893.1" y1="921.3" x2="893.1" y2="925.8" stroke="#8a8a8a" stroke-width="1"/>
<line x1="850.6" y1="921.3" x2="850.6" y2="925.8" stroke="#8a8a8a" stroke-width="1"/>
<text x="850.6" y="825.6" font-size="11.4" text-anchor="middle" >600</text>
<line x1="808.1" y1="921.3" x2="808.1" y2="925.8" stroke="#8a8a8a" stroke-width="1"/>
<line x1="765.6" y1="921.3" x2="765.6" y2="925.8" stroke="#8a8a8a" stroke-width="1"/>
<text x="765.6" y="825.6" font-size="11.4" text-anchor="middle" >800</text>
<line x1="723.1" y1="921.3" x2="723.1" y2="925.8" stroke="#8a8a8a" stroke-width="1"/>
<line x1="680.6" y1="921.3" x2="680.6" y2="925.8" stroke="#8a8a8a" stroke-width="1"/>
<text x="680.6" y="825.6" font-size="11.4" text-anchor="middle" >1000</text>
<line x1="638.1" y1="921.3" x2="638.1" y2="925.8" stroke="#8a8a8a" stroke-width="1"/>
<line x1="595.6" y1="921.3" x2="595.6" y2="925.8" stroke="#8a8a8a" stroke-width="1"/>
<text x="595.6" y="825.6" font-size="11.4" text-anchor="middle" >1200</text>
<line x1="553.1" y1="921.3" x2="553.1" y2="925.8" stroke="#8a8a8a" stroke-width="1"/>
<line x1="510.6" y1="921.3" x2="510.6" y2="925.8" stroke="#8a8a8a" stroke-width="1"/>
<text x="510.6" y="825.6" font-size="11.4" text-anchor="middle" >1400</text>
<line x1="468.1" y1="921.3" x2="468.1" y2="925.8" stroke="#8a8a8a" stroke-width="1"/>
<line x1="425.6" y1="921.3" x2="425.6" y2="925.8" stroke="#8a8a8a" stroke-width="1"/>
<text x="425.6" y="825.6" font-size="11.4" text-anchor="middle" >1600</text>
<line x1="383.1" y1="921.3" x2="383.1" y2="925.8" stroke="#8a8a8a" stroke-width="1"/>
<line x1="340.6" y1="921.3" x2="340.6" y2="925.8" stroke="#8a8a8a" stroke-width="1"/>
<text x="340.6" y="825.6" font-size="11.4" text-anchor="middle" >1800</text>
<line x1="298.1" y1="921.3" x2="298.1" y2="925.8" stroke="#8a8a8a" stroke-width="1"/>
<text x="306.8" y="825.6" font-size="11.3" text-anchor="start" >[m]</text>
<text x="268.7" y="806.2" font-size="19.2" text-anchor="start" >WNW</text>
<text x="1049.0" y="806.2" font-size="19.2" text-anchor="start" >ESE</text>
<text x="742.3" y="802.7" font-size="15.4" text-anchor="start" >inverse model resistivity section</text>
<text x="274.6" y="947.1" font-size="15.45" text-anchor="start" >apparent resistivity pseudosection</text>
</svg>
</body></html>
